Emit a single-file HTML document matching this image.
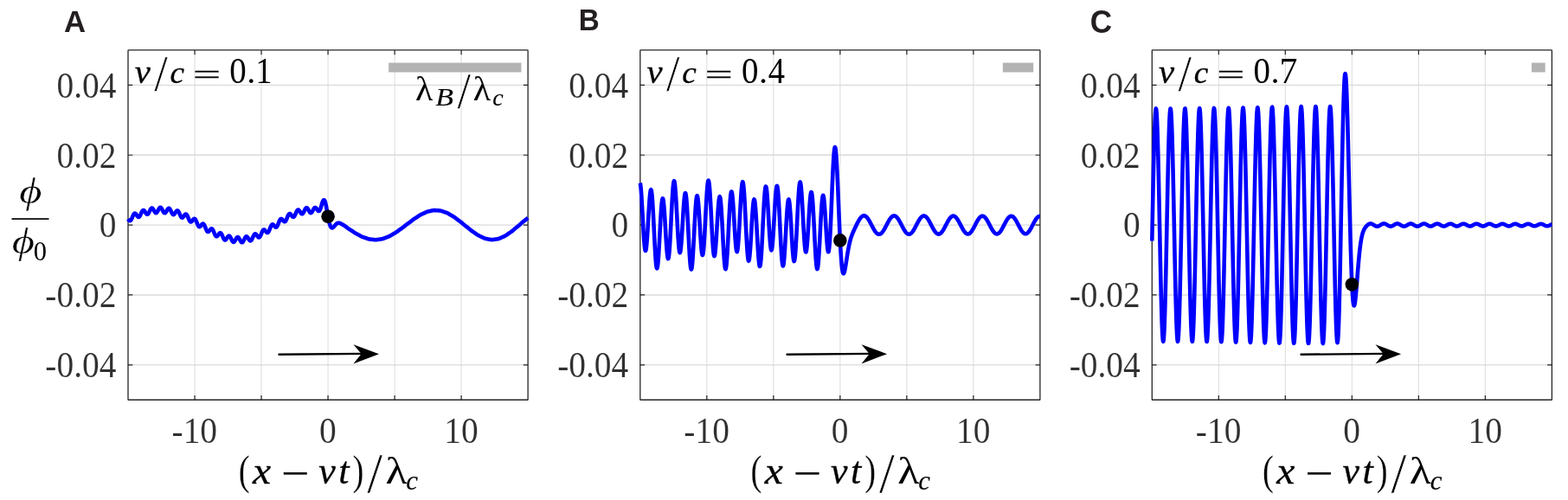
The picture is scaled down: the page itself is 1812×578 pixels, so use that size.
<!DOCTYPE html>
<html lang="en">
<head>
<meta charset="utf-8">
<title>Pilot-wave forms for v/c = 0.1, 0.4, 0.7</title>
<style>
html,body{margin:0;padding:0;background:#fff;}
body{width:1812px;height:578px;overflow:hidden;}
svg{display:block;}
text{white-space:pre;}
.r{font-family:"Liberation Serif","DejaVu Serif",serif;}
.i{font-family:"Liberation Serif","DejaVu Serif",serif;font-style:italic;}
.b{font-family:"Liberation Sans","DejaVu Sans",sans-serif;font-weight:bold;}
</style>
</head>
<body>
<svg width="1812" height="578" viewBox="0 0 1812 578">
<rect x="0" y="0" width="1812" height="578" fill="#fff"/>
<g id="panel0">
<path d="M225.02 57.95V462.25M302.03 57.95V462.25M379.05 57.95V462.25M456.07 57.95V462.25M533.08 57.95V462.25" stroke="#dfdfdf" stroke-width="1.1" fill="none"/>
<path d="M148 421.82H610.1M148 340.96H610.1M148 260.1H610.1M148 179.24H610.1M148 98.38H610.1" stroke="#dadada" stroke-width="1.35" fill="none"/>
<path d="M225.02 462.25v-5.3M225.02 57.95v5.3M302.03 462.25v-5.3M302.03 57.95v5.3M379.05 462.25v-5.3M379.05 57.95v5.3M456.07 462.25v-5.3M456.07 57.95v5.3M533.08 462.25v-5.3M533.08 57.95v5.3M148 421.82h5.3M610.1 421.82h-5.3M148 340.96h5.3M610.1 340.96h-5.3M148 260.1h5.3M610.1 260.1h-5.3M148 179.24h5.3M610.1 179.24h-5.3M148 98.38h5.3M610.1 98.38h-5.3" stroke="#262626" stroke-width="1.2" fill="none"/>
<rect x="148" y="57.95" width="462.1" height="404.3" rx="0.6" fill="none" stroke="#262626" stroke-width="1.3"/>
<rect x="449.14" y="72.55" width="153.26" height="10.95" fill="#b3b3b3"/>
<text><tspan class="i" font-size="38.5" x="155.74" y="96.3" textLength="18.11" lengthAdjust="spacingAndGlyphs" stroke="#000" stroke-width="0.3">v</tspan><tspan class="r" font-size="58.74" x="178.2" y="104.81" textLength="15.50" lengthAdjust="spacingAndGlyphs" stroke="#fff" stroke-width="0.45">/</tspan><tspan class="i" font-size="36.5" x="196.55" y="96.3" textLength="16.52" lengthAdjust="spacingAndGlyphs" stroke="#000" stroke-width="0.3">c</tspan> <tspan class="r" font-size="31.2" x="222.97" y="97.25" textLength="32.03" lengthAdjust="spacingAndGlyphs" stroke="#000" stroke-width="0.3">=</tspan> <tspan class="r" font-size="42.8" x="265.32" y="96.4" textLength="19.47" lengthAdjust="spacingAndGlyphs">0</tspan><tspan class="r" font-size="40.2" x="285.25" y="96.3">.</tspan><tspan class="r" font-size="42.8" x="295.21" y="96.3" textLength="19.26" lengthAdjust="spacingAndGlyphs">1</tspan></text>
<polyline points="148.00,253.13 148.25,253.49 148.50,253.85 148.75,254.19 149.00,254.50 149.25,254.76 149.50,254.97 149.75,255.12 150.00,255.21 150.25,255.22 150.50,255.15 150.75,255.02 151.00,254.80 151.25,254.51 151.50,254.15 151.75,253.73 152.00,253.25 152.25,252.73 152.50,252.17 152.75,251.58 153.00,250.99 153.25,250.39 153.50,249.80 153.75,249.23 153.99,248.70 154.24,248.21 154.49,247.78 154.74,247.41 154.99,247.10 155.24,246.88 155.49,246.72 155.74,246.65 155.99,246.65 156.24,246.72 156.49,246.87 156.74,247.08 156.99,247.34 157.24,247.65 157.49,248.00 157.74,248.37 157.99,248.76 158.24,249.14 158.49,249.52 158.74,249.87 158.99,250.19 159.24,250.46 159.49,250.68 159.74,250.84 159.99,250.93 160.24,250.95 160.49,250.89 160.74,250.76 160.99,250.55 161.24,250.27 161.49,249.92 161.74,249.51 161.99,249.05 162.24,248.54 162.49,248.00 162.74,247.43 162.99,246.86 163.24,246.29 163.49,245.73 163.74,245.19 163.99,244.70 164.24,244.25 164.49,243.86 164.74,243.53 164.99,243.27 165.24,243.09 165.48,242.98 165.73,242.95 165.98,243.00 166.23,243.12 166.48,243.31 166.73,243.56 166.98,243.86 167.23,244.21 167.48,244.60 167.73,245.00 167.98,245.42 168.23,245.84 168.48,246.24 168.73,246.62 168.98,246.96 169.23,247.25 169.48,247.49 169.73,247.67 169.98,247.78 170.23,247.81 170.48,247.77 170.73,247.65 170.98,247.46 171.23,247.20 171.48,246.87 171.73,246.48 171.98,246.04 172.23,245.56 172.48,245.04 172.73,244.51 172.98,243.97 173.23,243.44 173.48,242.92 173.73,242.43 173.98,241.98 174.23,241.58 174.48,241.24 174.73,240.96 174.98,240.75 175.23,240.62 175.48,240.57 175.73,240.60 175.98,240.70 176.23,240.88 176.48,241.12 176.73,241.42 176.97,241.78 177.22,242.17 177.47,242.60 177.72,243.05 177.97,243.51 178.22,243.96 178.47,244.40 178.72,244.81 178.97,245.18 179.22,245.50 179.47,245.77 179.72,245.97 179.97,246.10 180.22,246.16 180.47,246.14 180.72,246.05 180.97,245.88 181.22,245.64 181.47,245.34 181.72,244.98 181.97,244.57 182.22,244.12 182.47,243.65 182.72,243.16 182.97,242.66 183.22,242.17 183.47,241.70 183.72,241.26 183.97,240.86 184.22,240.52 184.47,240.23 184.72,240.01 184.97,239.87 185.22,239.80 185.47,239.81 185.72,239.89 185.97,240.06 186.22,240.29 186.47,240.59 186.72,240.95 186.97,241.36 187.22,241.81 187.47,242.29 187.72,242.78 187.97,243.28 188.22,243.78 188.46,244.26 188.71,244.70 188.96,245.11 189.21,245.46 189.46,245.76 189.71,245.99 189.96,246.15 190.21,246.23 190.46,246.24 190.71,246.18 190.96,246.04 191.21,245.83 191.46,245.56 191.71,245.23 191.96,244.86 192.21,244.45 192.46,244.01 192.71,243.56 192.96,243.11 193.21,242.67 193.46,242.25 193.71,241.86 193.96,241.52 194.21,241.23 194.46,241.01 194.71,240.85 194.96,240.77 195.21,240.76 195.46,240.83 195.71,240.98 195.96,241.20 196.21,241.50 196.46,241.86 196.71,242.27 196.96,242.73 197.21,243.24 197.46,243.76 197.71,244.31 197.96,244.85 198.21,245.39 198.46,245.90 198.71,246.38 198.96,246.82 199.21,247.21 199.46,247.54 199.71,247.79 199.96,247.98 200.20,248.09 200.45,248.13 200.70,248.09 200.95,247.98 201.20,247.80 201.45,247.56 201.70,247.26 201.95,246.92 202.20,246.55 202.45,246.15 202.70,245.74 202.95,245.33 203.20,244.94 203.45,244.57 203.70,244.23 203.95,243.95 204.20,243.71 204.45,243.54 204.70,243.44 204.95,243.42 205.20,243.47 205.45,243.60 205.70,243.81 205.95,244.09 206.20,244.44 206.45,244.85 206.70,245.32 206.95,245.84 207.20,246.39 207.45,246.96 207.70,247.54 207.95,248.13 208.20,248.70 208.45,249.25 208.70,249.76 208.95,250.22 209.20,250.64 209.45,250.99 209.70,251.27 209.95,251.48 210.20,251.61 210.45,251.66 210.70,251.65 210.95,251.56 211.20,251.40 211.45,251.18 211.69,250.91 211.94,250.60 212.19,250.26 212.44,249.89 212.69,249.52 212.94,249.15 213.19,248.79 213.44,248.46 213.69,248.17 213.94,247.93 214.19,247.75 214.44,247.63 214.69,247.58 214.94,247.61 215.19,247.71 215.44,247.89 215.69,248.15 215.94,248.48 216.19,248.88 216.44,249.33 216.69,249.85 216.94,250.40 217.19,250.99 217.44,251.59 217.69,252.21 217.94,252.82 218.19,253.42 218.44,253.99 218.69,254.52 218.94,255.01 219.19,255.43 219.44,255.80 219.69,256.09 219.94,256.31 220.19,256.45 220.44,256.52 220.69,256.51 220.94,256.43 221.19,256.29 221.44,256.08 221.69,255.83 221.94,255.53 222.19,255.21 222.44,254.87 222.69,254.52 222.94,254.17 223.18,253.85 223.43,253.55 223.68,253.29 223.93,253.09 224.18,252.94 224.43,252.86 224.68,252.85 224.93,252.91 225.18,253.05 225.43,253.27 225.68,253.56 225.93,253.93 226.18,254.36 226.43,254.85 226.68,255.39 226.93,255.97 227.18,256.58 227.43,257.21 227.68,257.84 227.93,258.47 228.18,259.08 228.43,259.66 228.68,260.20 228.93,260.68 229.18,261.11 229.43,261.47 229.68,261.76 229.93,261.98 230.18,262.12 230.43,262.18 230.68,262.17 230.93,262.09 231.18,261.94 231.43,261.74 231.68,261.48 231.93,261.19 232.18,260.87 232.43,260.53 232.68,260.19 232.93,259.86 233.18,259.55 233.43,259.27 233.68,259.03 233.93,258.84 234.18,258.72 234.43,258.66 234.67,258.67 234.92,258.75 235.17,258.92 235.42,259.16 235.67,259.47 235.92,259.86 236.17,260.31 236.42,260.81 236.67,261.37 236.92,261.96 237.17,262.57 237.42,263.20 237.67,263.84 237.92,264.46 238.17,265.06 238.42,265.63 238.67,266.16 238.92,266.63 239.17,267.05 239.42,267.39 239.67,267.66 239.92,267.86 240.17,267.97 240.42,268.01 240.67,267.98 240.92,267.88 241.17,267.71 241.42,267.49 241.67,267.22 241.92,266.91 242.17,266.58 242.42,266.24 242.67,265.89 242.92,265.55 243.17,265.24 243.42,264.95 243.67,264.72 243.92,264.53 244.17,264.41 244.42,264.35 244.67,264.37 244.92,264.46 245.17,264.63 245.42,264.88 245.67,265.20 245.92,265.58 246.17,266.03 246.41,266.53 246.66,267.08 246.91,267.66 247.16,268.27 247.41,268.88 247.66,269.50 247.91,270.10 248.16,270.68 248.41,271.22 248.66,271.72 248.91,272.16 249.16,272.54 249.41,272.84 249.66,273.08 249.91,273.23 250.16,273.31 250.41,273.32 250.66,273.24 250.91,273.10 251.16,272.90 251.41,272.64 251.66,272.34 251.91,272.00 252.16,271.64 252.41,271.27 252.66,270.90 252.91,270.54 253.16,270.20 253.41,269.91 253.66,269.65 253.91,269.45 254.16,269.32 254.41,269.25 254.66,269.25 254.91,269.34 255.16,269.49 255.41,269.72 255.66,270.03 255.91,270.40 256.16,270.83 256.41,271.31 256.66,271.83 256.91,272.39 257.16,272.96 257.41,273.55 257.66,274.13 257.90,274.69 258.15,275.23 258.40,275.73 258.65,276.18 258.90,276.57 259.15,276.89 259.40,277.15 259.65,277.33 259.90,277.43 260.15,277.46 260.40,277.40 260.65,277.28 260.90,277.08 261.15,276.83 261.40,276.52 261.65,276.17 261.90,275.79 262.15,275.38 262.40,274.97 262.65,274.56 262.90,274.16 263.15,273.79 263.40,273.46 263.65,273.18 263.90,272.95 264.15,272.79 264.40,272.69 264.65,272.67 264.90,272.73 265.15,272.86 265.40,273.06 265.65,273.33 265.90,273.67 266.15,274.07 266.40,274.52 266.65,275.00 266.90,275.52 267.15,276.05 267.40,276.59 267.65,277.12 267.90,277.63 268.15,278.11 268.40,278.55 268.65,278.94 268.90,279.27 269.15,279.53 269.39,279.72 269.64,279.84 269.89,279.87 270.14,279.83 270.39,279.71 270.64,279.52 270.89,279.26 271.14,278.94 271.39,278.58 271.64,278.17 271.89,277.73 272.14,277.27 272.39,276.80 272.64,276.34 272.89,275.90 273.14,275.48 273.39,275.11 273.64,274.79 273.89,274.52 274.14,274.32 274.39,274.19 274.64,274.13 274.89,274.15 275.14,274.24 275.39,274.41 275.64,274.64 275.89,274.94 276.14,275.30 276.39,275.70 276.64,276.14 276.89,276.61 277.14,277.09 277.39,277.57 277.64,278.04 277.89,278.49 278.14,278.91 278.39,279.28 278.64,279.61 278.89,279.87 279.14,280.06 279.39,280.17 279.64,280.21 279.89,280.18 280.14,280.06 280.39,279.87 280.64,279.61 280.88,279.28 281.13,278.89 281.38,278.46 281.63,277.98 281.88,277.48 282.13,276.96 282.38,276.44 282.63,275.93 282.88,275.43 283.13,274.97 283.38,274.55 283.63,274.18 283.88,273.88 284.13,273.63 284.38,273.46 284.63,273.37 284.88,273.35 285.13,273.40 285.38,273.53 285.63,273.72 285.88,273.98 286.13,274.29 286.38,274.64 286.63,275.03 286.88,275.45 287.13,275.87 287.38,276.30 287.63,276.71 287.88,277.10 288.13,277.45 288.38,277.76 288.63,278.01 288.88,278.20 289.13,278.32 289.38,278.37 289.63,278.33 289.88,278.22 290.13,278.03 290.38,277.77 290.63,277.44 290.88,277.04 291.13,276.59 291.38,276.09 291.63,275.56 291.88,274.99 292.13,274.42 292.38,273.85 292.62,273.28 292.87,272.74 293.12,272.24 293.37,271.77 293.62,271.37 293.87,271.02 294.12,270.74 294.37,270.53 294.62,270.40 294.87,270.35 295.12,270.37 295.37,270.46 295.62,270.62 295.87,270.83 296.12,271.10 296.37,271.42 296.62,271.76 296.87,272.13 297.12,272.51 297.37,272.88 297.62,273.24 297.87,273.58 298.12,273.87 298.37,274.12 298.62,274.31 298.87,274.43 299.12,274.49 299.37,274.47 299.62,274.37 299.87,274.20 300.12,273.95 300.37,273.62 300.62,273.23 300.87,272.77 301.12,272.26 301.37,271.71 301.62,271.12 301.87,270.51 302.12,269.90 302.37,269.28 302.62,268.68 302.87,268.10 303.12,267.56 303.37,267.07 303.62,266.63 303.87,266.26 304.11,265.96 304.36,265.73 304.61,265.57 304.86,265.49 305.11,265.49 305.36,265.56 305.61,265.69 305.86,265.88 306.11,266.13 306.36,266.41 306.61,266.73 306.86,267.06 307.11,267.40 307.36,267.74 307.61,268.06 307.86,268.35 308.11,268.60 308.36,268.80 308.61,268.94 308.86,269.02 309.11,269.03 309.36,268.96 309.61,268.81 309.86,268.59 310.11,268.29 310.36,267.92 310.61,267.48 310.86,266.98 311.11,266.43 311.36,265.84 311.61,265.22 311.86,264.58 312.11,263.94 312.36,263.30 312.61,262.67 312.86,262.08 313.11,261.53 313.36,261.02 313.61,260.57 313.86,260.19 314.11,259.88 314.36,259.65 314.61,259.49 314.86,259.41 315.11,259.40 315.36,259.46 315.60,259.59 315.85,259.78 316.10,260.01 316.35,260.29 316.60,260.59 316.85,260.91 317.10,261.23 317.35,261.55 317.60,261.85 317.85,262.12 318.10,262.34 318.35,262.52 318.60,262.63 318.85,262.68 319.10,262.66 319.35,262.56 319.60,262.39 319.85,262.14 320.10,261.81 320.35,261.42 320.60,260.96 320.85,260.44 321.10,259.87 321.35,259.27 321.60,258.64 321.85,257.99 322.10,257.34 322.35,256.70 322.60,256.07 322.85,255.48 323.10,254.94 323.35,254.44 323.60,254.01 323.85,253.64 324.10,253.35 324.35,253.13 324.60,252.99 324.85,252.93 325.10,252.94 325.35,253.02 325.60,253.16 325.85,253.37 326.10,253.62 326.35,253.90 326.60,254.22 326.85,254.55 327.09,254.88 327.34,255.20 327.59,255.50 327.84,255.77 328.09,255.99 328.34,256.16 328.59,256.28 328.84,256.32 329.09,256.29 329.34,256.19 329.59,256.01 329.84,255.76 330.09,255.43 330.34,255.03 330.59,254.57 330.84,254.06 331.09,253.50 331.34,252.91 331.59,252.29 331.84,251.66 332.09,251.03 332.34,250.41 332.59,249.81 332.84,249.25 333.09,248.74 333.34,248.28 333.59,247.88 333.84,247.55 334.09,247.30 334.34,247.13 334.59,247.03 334.84,247.01 335.09,247.06 335.34,247.18 335.59,247.37 335.84,247.61 336.09,247.90 336.34,248.22 336.59,248.57 336.84,248.93 337.09,249.29 337.34,249.64 337.59,249.96 337.84,250.25 338.09,250.50 338.34,250.69 338.59,250.82 338.83,250.89 339.08,250.88 339.33,250.79 339.58,250.63 339.83,250.40 340.08,250.09 340.33,249.72 340.58,249.28 340.83,248.80 341.08,248.27 341.33,247.71 341.58,247.12 341.83,246.53 342.08,245.95 342.33,245.37 342.58,244.83 342.83,244.32 343.08,243.86 343.33,243.46 343.58,243.12 343.83,242.85 344.08,242.66 344.33,242.55 344.58,242.52 344.83,242.56 345.08,242.68 345.33,242.86 345.58,243.11 345.83,243.41 346.08,243.75 346.33,244.13 346.58,244.53 346.83,244.95 347.08,245.36 347.33,245.75 347.58,246.12 347.83,246.46 348.08,246.74 348.33,246.98 348.58,247.15 348.83,247.25 349.08,247.27 349.33,247.23 349.58,247.10 349.83,246.91 350.08,246.64 350.32,246.31 350.57,245.92 350.82,245.48 351.07,245.00 351.32,244.49 351.57,243.96 351.82,243.43 352.07,242.90 352.32,242.39 352.57,241.91 352.82,241.47 353.07,241.09 353.32,240.76 353.57,240.50 353.82,240.31 354.07,240.20 354.32,240.16 354.57,240.21 354.82,240.33 355.07,240.52 355.32,240.78 355.57,241.11 355.82,241.48 356.07,241.90 356.32,242.35 356.57,242.81 356.82,243.29 357.07,243.76 357.32,244.21 357.57,244.64 357.82,245.03 358.07,245.37 358.32,245.65 358.57,245.87 358.82,246.01 359.07,246.09 359.32,246.09 359.57,246.01 359.82,245.86 360.07,245.64 360.32,245.35 360.57,245.01 360.82,244.61 361.07,244.18 361.32,243.72 361.57,243.25 361.81,242.76 362.06,242.29 362.31,241.83 362.56,241.40 362.81,241.01 363.06,240.67 363.31,240.39 363.56,240.17 363.81,240.02 364.06,239.94 364.31,239.93 364.56,239.99 364.81,240.12 365.06,240.31 365.31,240.56 365.56,240.86 365.81,241.20 366.06,241.56 366.31,241.94 366.56,242.32 366.81,242.69 367.06,243.04 367.31,243.35 367.56,243.62 367.81,243.83 368.06,243.97 368.31,244.03 368.56,244.00 368.81,243.89 369.06,243.68 369.31,243.38 369.56,242.99 369.81,242.50 370.06,241.93 370.31,241.29 370.56,240.57 370.81,239.80 371.06,238.99 371.31,238.14 371.56,237.28 371.81,236.42 372.06,235.57 372.31,234.75 372.56,233.99 372.81,233.28 373.06,232.66 373.30,232.13 373.55,231.69 373.80,231.38 374.05,231.18 374.30,231.12 374.55,231.19 374.80,231.40 375.05,231.75 375.30,232.23 375.55,232.85 375.80,233.60 376.05,234.46 376.30,235.44 376.55,236.53 376.80,237.70 377.05,238.96 377.30,240.28 377.55,241.65 377.80,243.06 378.05,244.50 378.30,245.95 378.55,247.39 378.80,248.82 379.05,250.22 379.30,251.58 379.55,252.89 379.80,254.14 380.05,255.33 380.30,256.44 380.55,257.48 380.80,258.43 381.05,259.30 381.30,260.08 381.55,260.78 381.80,261.38 382.05,261.90 382.30,262.34 382.55,262.70 382.80,262.98 383.05,263.19 383.30,263.33 383.55,263.41 383.80,263.43 384.05,263.40 384.30,263.32 384.55,263.19 384.80,263.03 385.04,262.84 385.29,262.62 385.54,262.37 385.79,262.11 386.04,261.83 386.29,261.54 386.54,261.24 386.79,260.95 387.04,260.65 387.29,260.35 387.54,260.06 387.79,259.78 388.04,259.51 388.29,259.26 388.54,259.02 388.79,258.80 389.04,258.59 389.29,258.41 389.54,258.24 389.79,258.10 390.04,257.98 390.29,257.89 390.54,257.81 390.79,257.76 391.04,257.72 391.29,257.71 391.54,257.72 391.79,257.75 392.04,257.79 392.29,257.85 392.54,257.93 392.79,258.01 393.04,258.11 393.29,258.22 393.54,258.34 393.79,258.46 394.04,258.59 394.29,258.72 394.54,258.85 394.79,258.99 395.04,259.13 395.29,259.27 395.54,259.41 395.79,259.55 396.04,259.69 396.29,259.83 396.53,259.98 396.78,260.12 397.03,260.27 397.28,260.42 397.53,260.57 397.78,260.73 398.03,260.89 398.28,261.05 398.53,261.22 398.78,261.39 399.03,261.57 399.28,261.75 399.53,261.94 399.78,262.12 400.03,262.31 400.28,262.51 400.53,262.70 400.78,262.89 401.03,263.09 401.28,263.28 401.53,263.47 401.78,263.66 402.03,263.84 402.28,264.03 402.53,264.20 402.78,264.38 403.03,264.55 403.28,264.72 403.53,264.88 403.78,265.04 404.03,265.19 404.28,265.35 404.53,265.50 404.78,265.65 405.03,265.80 405.28,265.95 405.53,266.10 405.78,266.26 406.03,266.42 406.28,266.57 406.53,266.74 406.78,266.90 407.03,267.07 407.28,267.24 407.53,267.41 407.78,267.59 408.02,267.77 408.27,267.94 408.52,268.12 408.77,268.30 409.02,268.47 409.27,268.65 409.52,268.82 409.77,268.98 410.02,269.15 410.27,269.31 410.52,269.46 410.77,269.61 411.02,269.76 411.27,269.90 411.52,270.03 411.77,270.17 412.02,270.30 412.27,270.42 412.52,270.55 412.77,270.67 413.02,270.79 413.27,270.92 413.52,271.04 413.77,271.17 414.02,271.29 414.27,271.42 414.52,271.56 414.77,271.69 415.02,271.83 415.27,271.97 415.52,272.11 415.77,272.25 416.02,272.39 416.27,272.53 416.52,272.67 416.77,272.81 417.02,272.95 417.27,273.09 417.52,273.22 417.77,273.35 418.02,273.47 418.27,273.59 418.52,273.70 418.77,273.81 419.02,273.91 419.27,274.01 419.51,274.10 419.76,274.19 420.01,274.27 420.26,274.35 420.51,274.43 420.76,274.51 421.01,274.59 421.26,274.67 421.51,274.75 421.76,274.83 422.01,274.91 422.26,274.99 422.51,275.08 422.76,275.17 423.01,275.26 423.26,275.35 423.51,275.44 423.76,275.53 424.01,275.63 424.26,275.72 424.51,275.81 424.76,275.90 425.01,275.98 425.26,276.06 425.51,276.14 425.76,276.21 426.01,276.28 426.26,276.34 426.51,276.40 426.76,276.45 427.01,276.49 427.26,276.53 427.51,276.57 427.76,276.60 428.01,276.63 428.26,276.65 428.51,276.68 428.76,276.70 429.01,276.72 429.26,276.74 429.51,276.76 429.76,276.79 430.01,276.81 430.26,276.84 430.51,276.87 430.76,276.90 431.01,276.93 431.25,276.96 431.50,276.99 431.75,277.02 432.00,277.06 432.25,277.09 432.50,277.12 432.75,277.14 433.00,277.17 433.25,277.19 433.50,277.20 433.75,277.21 434.00,277.21 434.25,277.21 434.50,277.20 434.75,277.19 435.00,277.17 435.25,277.15 435.50,277.12 435.75,277.08 436.00,277.05 436.25,277.01 436.50,276.97 436.75,276.93 437.00,276.89 437.25,276.85 437.50,276.81 437.75,276.77 438.00,276.73 438.25,276.69 438.50,276.66 438.75,276.63 439.00,276.59 439.25,276.56 439.50,276.53 439.75,276.50 440.00,276.47 440.25,276.44 440.50,276.40 440.75,276.37 441.00,276.32 441.25,276.28 441.50,276.23 441.75,276.17 442.00,276.11 442.25,276.04 442.50,275.97 442.74,275.89 442.99,275.81 443.24,275.72 443.49,275.63 443.74,275.53 443.99,275.43 444.24,275.33 444.49,275.23 444.74,275.13 444.99,275.02 445.24,274.92 445.49,274.82 445.74,274.72 445.99,274.63 446.24,274.53 446.49,274.44 446.74,274.34 446.99,274.25 447.24,274.16 447.49,274.08 447.74,273.99 447.99,273.90 448.24,273.80 448.49,273.71 448.74,273.61 448.99,273.51 449.24,273.41 449.49,273.30 449.74,273.18 449.99,273.06 450.24,272.93 450.49,272.80 450.74,272.67 450.99,272.53 451.24,272.38 451.49,272.23 451.74,272.08 451.99,271.93 452.24,271.78 452.49,271.62 452.74,271.47 452.99,271.31 453.24,271.16 453.49,271.01 453.74,270.86 453.99,270.71 454.23,270.57 454.48,270.43 454.73,270.29 454.98,270.15 455.23,270.01 455.48,269.87 455.73,269.74 455.98,269.60 456.23,269.46 456.48,269.32 456.73,269.17 456.98,269.03 457.23,268.88 457.48,268.72 457.73,268.56 457.98,268.39 458.23,268.22 458.48,268.05 458.73,267.87 458.98,267.69 459.23,267.50 459.48,267.31 459.73,267.12 459.98,266.93 460.23,266.74 460.48,266.55 460.73,266.36 460.98,266.17 461.23,265.98 461.48,265.80 461.73,265.61 461.98,265.43 462.23,265.26 462.48,265.09 462.73,264.92 462.98,264.75 463.23,264.58 463.48,264.41 463.73,264.25 463.98,264.08 464.23,263.92 464.48,263.75 464.73,263.57 464.98,263.40 465.23,263.22 465.48,263.04 465.72,262.85 465.97,262.66 466.22,262.47 466.47,262.27 466.72,262.07 466.97,261.87 467.22,261.66 467.47,261.45 467.72,261.24 467.97,261.03 468.22,260.83 468.47,260.62 468.72,260.41 468.97,260.21 469.22,260.01 469.47,259.82 469.72,259.62 469.97,259.43 470.22,259.25 470.47,259.07 470.72,258.89 470.97,258.71 471.22,258.54 471.47,258.37 471.72,258.19 471.97,258.02 472.22,257.85 472.47,257.68 472.72,257.50 472.97,257.32 473.22,257.14 473.47,256.96 473.72,256.77 473.97,256.58 474.22,256.38 474.47,256.19 474.72,255.99 474.97,255.79 475.22,255.58 475.47,255.38 475.72,255.18 475.97,254.98 476.22,254.77 476.47,254.58 476.72,254.38 476.97,254.19 477.22,254.00 477.46,253.82 477.71,253.64 477.96,253.47 478.21,253.30 478.46,253.13 478.71,252.97 478.96,252.81 479.21,252.65 479.46,252.50 479.71,252.35 479.96,252.19 480.21,252.04 480.46,251.89 480.71,251.73 480.96,251.57 481.21,251.41 481.46,251.25 481.71,251.09 481.96,250.92 482.21,250.75 482.46,250.58 482.71,250.40 482.96,250.23 483.21,250.06 483.46,249.88 483.71,249.71 483.96,249.54 484.21,249.37 484.46,249.21 484.71,249.05 484.96,248.89 485.21,248.74 485.46,248.59 485.71,248.45 485.96,248.32 486.21,248.19 486.46,248.06 486.71,247.94 486.96,247.82 487.21,247.71 487.46,247.59 487.71,247.48 487.96,247.37 488.21,247.26 488.46,247.15 488.71,247.03 488.95,246.92 489.20,246.80 489.45,246.69 489.70,246.57 489.95,246.44 490.20,246.32 490.45,246.20 490.70,246.07 490.95,245.95 491.20,245.82 491.45,245.70 491.70,245.58 491.95,245.46 492.20,245.35 492.45,245.24 492.70,245.13 492.95,245.03 493.20,244.94 493.45,244.85 493.70,244.77 493.95,244.69 494.20,244.62 494.45,244.55 494.70,244.49 494.95,244.43 495.20,244.37 495.45,244.32 495.70,244.27 495.95,244.22 496.20,244.16 496.45,244.11 496.70,244.06 496.95,244.01 497.20,243.95 497.45,243.90 497.70,243.84 497.95,243.78 498.20,243.72 498.45,243.66 498.70,243.60 498.95,243.54 499.20,243.48 499.45,243.42 499.70,243.37 499.95,243.32 500.20,243.27 500.44,243.23 500.69,243.20 500.94,243.17 501.19,243.14 501.44,243.13 501.69,243.11 501.94,243.11 502.19,243.11 502.44,243.11 502.69,243.12 502.94,243.13 503.19,243.14 503.44,243.16 503.69,243.18 503.94,243.20 504.19,243.22 504.44,243.24 504.69,243.26 504.94,243.27 505.19,243.29 505.44,243.30 505.69,243.32 505.94,243.33 506.19,243.34 506.44,243.35 506.69,243.36 506.94,243.38 507.19,243.39 507.44,243.41 507.69,243.43 507.94,243.45 508.19,243.48 508.44,243.51 508.69,243.55 508.94,243.60 509.19,243.65 509.44,243.70 509.69,243.77 509.94,243.83 510.19,243.91 510.44,243.99 510.69,244.07 510.94,244.15 511.19,244.24 511.44,244.33 511.69,244.42 511.93,244.51 512.18,244.60 512.43,244.69 512.68,244.78 512.93,244.87 513.18,244.95 513.43,245.04 513.68,245.12 513.93,245.20 514.18,245.28 514.43,245.36 514.68,245.44 514.93,245.53 515.18,245.61 515.43,245.70 515.68,245.79 515.93,245.88 516.18,245.98 516.43,246.08 516.68,246.19 516.93,246.31 517.18,246.43 517.43,246.55 517.68,246.68 517.93,246.82 518.18,246.96 518.43,247.11 518.68,247.25 518.93,247.40 519.18,247.56 519.43,247.71 519.68,247.86 519.93,248.02 520.18,248.17 520.43,248.32 520.68,248.47 520.93,248.62 521.18,248.76 521.43,248.90 521.68,249.05 521.93,249.19 522.18,249.32 522.43,249.46 522.68,249.60 522.93,249.74 523.18,249.88 523.43,250.03 523.67,250.17 523.92,250.32 524.17,250.48 524.42,250.64 524.67,250.80 524.92,250.97 525.17,251.14 525.42,251.32 525.67,251.50 525.92,251.69 526.17,251.88 526.42,252.08 526.67,252.27 526.92,252.47 527.17,252.67 527.42,252.87 527.67,253.07 527.92,253.27 528.17,253.46 528.42,253.65 528.67,253.84 528.92,254.03 529.17,254.22 529.42,254.40 529.67,254.58 529.92,254.76 530.17,254.93 530.42,255.11 530.67,255.28 530.92,255.46 531.17,255.64 531.42,255.81 531.67,256.00 531.92,256.18 532.17,256.37 532.42,256.56 532.67,256.75 532.92,256.95 533.17,257.16 533.42,257.37 533.67,257.58 533.92,257.79 534.17,258.01 534.42,258.23 534.67,258.45 534.92,258.67 535.16,258.89 535.41,259.11 535.66,259.33 535.91,259.54 536.16,259.75 536.41,259.96 536.66,260.17 536.91,260.37 537.16,260.57 537.41,260.76 537.66,260.95 537.91,261.14 538.16,261.33 538.41,261.51 538.66,261.70 538.91,261.88 539.16,262.07 539.41,262.25 539.66,262.44 539.91,262.63 540.16,262.82 540.41,263.02 540.66,263.22 540.91,263.42 541.16,263.63 541.41,263.84 541.66,264.05 541.91,264.26 542.16,264.47 542.41,264.69 542.66,264.90 542.91,265.12 543.16,265.33 543.41,265.54 543.66,265.75 543.91,265.95 544.16,266.15 544.41,266.35 544.66,266.54 544.91,266.72 545.16,266.90 545.41,267.08 545.66,267.25 545.91,267.42 546.16,267.59 546.41,267.76 546.65,267.92 546.90,268.08 547.15,268.24 547.40,268.41 547.65,268.57 547.90,268.74 548.15,268.91 548.40,269.08 548.65,269.25 548.90,269.43 549.15,269.60 549.40,269.78 549.65,269.96 549.90,270.15 550.15,270.33 550.40,270.51 550.65,270.69 550.90,270.87 551.15,271.04 551.40,271.21 551.65,271.38 551.90,271.54 552.15,271.70 552.40,271.85 552.65,272.00 552.90,272.14 553.15,272.28 553.40,272.41 553.65,272.54 553.90,272.66 554.15,272.78 554.40,272.90 554.65,273.01 554.90,273.13 555.15,273.24 555.40,273.35 555.65,273.47 555.90,273.58 556.15,273.70 556.40,273.82 556.65,273.94 556.90,274.06 557.15,274.18 557.40,274.31 557.65,274.43 557.90,274.56 558.14,274.68 558.39,274.80 558.64,274.92 558.89,275.04 559.14,275.15 559.39,275.26 559.64,275.36 559.89,275.46 560.14,275.55 560.39,275.64 560.64,275.72 560.89,275.79 561.14,275.86 561.39,275.92 561.64,275.98 561.89,276.03 562.14,276.09 562.39,276.13 562.64,276.18 562.89,276.22 563.14,276.27 563.39,276.31 563.64,276.35 563.89,276.40 564.14,276.44 564.39,276.49 564.64,276.54 564.89,276.59 565.14,276.64 565.39,276.69 565.64,276.74 565.89,276.79 566.14,276.84 566.39,276.88 566.64,276.92 566.89,276.96 567.14,277.00 567.39,277.03 567.64,277.05 567.89,277.07 568.14,277.08 568.39,277.08 568.64,277.08 568.89,277.08 569.14,277.06 569.39,277.04 569.64,277.02 569.88,276.99 570.13,276.96 570.38,276.93 570.63,276.90 570.88,276.86 571.13,276.82 571.38,276.79 571.63,276.75 571.88,276.71 572.13,276.68 572.38,276.65 572.63,276.61 572.88,276.58 573.13,276.55 573.38,276.52 573.63,276.49 573.88,276.46 574.13,276.42 574.38,276.38 574.63,276.34 574.88,276.30 575.13,276.25 575.38,276.20 575.63,276.14 575.88,276.07 576.13,276.00 576.38,275.92 576.63,275.84 576.88,275.75 577.13,275.65 577.38,275.55 577.63,275.44 577.88,275.34 578.13,275.22 578.38,275.11 578.63,275.00 578.88,274.88 579.13,274.77 579.38,274.65 579.63,274.54 579.88,274.42 580.13,274.31 580.38,274.20 580.63,274.09 580.88,273.99 581.13,273.88 581.37,273.77 581.62,273.67 581.87,273.56 582.12,273.45 582.37,273.33 582.62,273.22 582.87,273.10 583.12,272.98 583.37,272.85 583.62,272.71 583.87,272.57 584.12,272.43 584.37,272.27 584.62,272.12 584.87,271.96 585.12,271.79 585.37,271.62 585.62,271.44 585.87,271.27 586.12,271.09 586.37,270.91 586.62,270.73 586.87,270.55 587.12,270.37 587.37,270.19 587.62,270.01 587.87,269.84 588.12,269.67 588.37,269.50 588.62,269.33 588.87,269.16 589.12,269.00 589.37,268.83 589.62,268.67 589.87,268.50 590.12,268.34 590.37,268.17 590.62,268.00 590.87,267.82 591.12,267.64 591.37,267.46 591.62,267.27 591.87,267.08 592.12,266.88 592.37,266.68 592.62,266.47 592.86,266.26 593.11,266.05 593.36,265.83 593.61,265.61 593.86,265.39 594.11,265.17 594.36,264.95 594.61,264.73 594.86,264.51 595.11,264.29 595.36,264.07 595.61,263.86 595.86,263.65 596.11,263.45 596.36,263.24 596.61,263.04 596.86,262.85 597.11,262.65 597.36,262.45 597.61,262.26 597.86,262.07 598.11,261.87 598.36,261.68 598.61,261.48 598.86,261.28 599.11,261.07 599.36,260.87 599.61,260.66 599.86,260.44 600.11,260.22 600.36,260.00 600.61,259.78 600.86,259.55 601.11,259.32 601.36,259.09 601.61,258.85 601.86,258.62 602.11,258.39 602.36,258.16 602.61,257.93 602.86,257.70 603.11,257.48 603.36,257.26 603.61,257.05 603.86,256.84 604.11,256.63 604.35,256.43 604.60,256.23 604.85,256.03 605.10,255.84 605.35,255.65 605.60,255.46 605.85,255.27 606.10,255.09 606.35,254.90 606.60,254.71 606.85,254.51 607.10,254.32 607.35,254.12 607.60,253.93 607.85,253.72 608.10,253.52 608.35,253.31 608.60,253.10 608.85,252.89 609.10,252.68 609.35,252.47 609.60,252.26 609.85,252.05 610.10,251.85" fill="none" stroke="#0000ff" stroke-width="4.6" stroke-linejoin="round" stroke-linecap="butt"/>
<circle cx="379.05" cy="250.22" r="7.8" fill="#000"/>
<path d="M322.5 409.8L418.6 408.9" stroke="#000" stroke-width="2.45" fill="none" stroke-linecap="round"/>
<path d="M438 409.15L408.4 398.2L417.6 408.9L408.4 420.4Z" fill="#000"/>
<text class="r" font-size="41.7" fill="#303030" stroke="#fff" stroke-width="0.1" transform="translate(134.4 112.68) scale(0.945 1)" text-anchor="end">0.04</text>
<text class="r" font-size="41.7" fill="#303030" stroke="#fff" stroke-width="0.1" transform="translate(134.4 193.54) scale(0.945 1)" text-anchor="end">0.02</text>
<text class="r" font-size="41.7" fill="#303030" stroke="#fff" stroke-width="0.1" transform="translate(134.4 274.4) scale(0.945 1)" text-anchor="end">0</text>
<text class="r" font-size="41.7" fill="#303030" stroke="#fff" stroke-width="0.1" transform="translate(134.4 355.26) scale(0.945 1)" text-anchor="end">-0.02</text>
<text class="r" font-size="41.7" fill="#303030" stroke="#fff" stroke-width="0.1" transform="translate(134.4 436.12) scale(0.945 1)" text-anchor="end">-0.04</text>
<text class="r" font-size="41.7" fill="#303030" stroke="#fff" stroke-width="0.1" transform="translate(224.82 512.4) scale(0.945 1)" text-anchor="middle">-10</text>
<text class="r" font-size="41.7" fill="#303030" stroke="#fff" stroke-width="0.1" transform="translate(378.85 512.4) scale(0.945 1)" text-anchor="middle">0</text>
<text class="r" font-size="41.7" fill="#303030" stroke="#fff" stroke-width="0.1" transform="translate(532.88 512.4) scale(0.945 1)" text-anchor="middle">10</text>
<text><tspan class="b" font-size="34.9" x="74.09" y="37.3" textLength="25.08" lengthAdjust="spacingAndGlyphs" fill="#231f20">A</tspan></text>
<text><tspan class="r" font-size="47.88" x="275.8" y="559.9" textLength="12.87" lengthAdjust="spacingAndGlyphs" stroke="#fff" stroke-width="0.2">(</tspan><tspan class="i" font-size="44" x="292.08" y="558.9" textLength="21.09" lengthAdjust="spacingAndGlyphs" stroke="#000" stroke-width="0.3">x</tspan> <tspan class="r" font-size="44" x="325.15" y="562.4" textLength="32.26" lengthAdjust="spacingAndGlyphs" stroke="#000" stroke-width="0.3">−</tspan> <tspan class="i" font-size="44" x="368.3" y="558.9" stroke="#000" stroke-width="0.3">v</tspan><tspan class="i" font-size="44" x="391.17" y="558.9" stroke="#000" stroke-width="0.3">t</tspan><tspan class="r" font-size="47.88" x="407.55" y="559.9" textLength="12.87" lengthAdjust="spacingAndGlyphs" stroke="#fff" stroke-width="0.2">)</tspan><tspan class="r" font-size="64.72" x="424.3" y="568.85" textLength="17.80" lengthAdjust="spacingAndGlyphs" stroke="#fff" stroke-width="0.5">/</tspan><tspan class="r" font-size="44" x="445.43" y="558.9" textLength="25.17" lengthAdjust="spacingAndGlyphs">λ</tspan><tspan class="i" font-size="31" x="469.35" y="566.1" stroke="#000" stroke-width="0.12">c</tspan></text>
</g>
<g id="panel1">
<path d="M816.82 57.95V462.25M893.83 57.95V462.25M970.85 57.95V462.25M1047.87 57.95V462.25M1124.88 57.95V462.25" stroke="#dfdfdf" stroke-width="1.1" fill="none"/>
<path d="M739.8 421.82H1201.9M739.8 340.96H1201.9M739.8 260.1H1201.9M739.8 179.24H1201.9M739.8 98.38H1201.9" stroke="#dadada" stroke-width="1.35" fill="none"/>
<path d="M816.82 462.25v-5.3M816.82 57.95v5.3M893.83 462.25v-5.3M893.83 57.95v5.3M970.85 462.25v-5.3M970.85 57.95v5.3M1047.87 462.25v-5.3M1047.87 57.95v5.3M1124.88 462.25v-5.3M1124.88 57.95v5.3M739.8 421.82h5.3M1201.9 421.82h-5.3M739.8 340.96h5.3M1201.9 340.96h-5.3M739.8 260.1h5.3M1201.9 260.1h-5.3M739.8 179.24h5.3M1201.9 179.24h-5.3M739.8 98.38h5.3M1201.9 98.38h-5.3" stroke="#262626" stroke-width="1.2" fill="none"/>
<rect x="739.8" y="57.95" width="462.1" height="404.3" rx="0.6" fill="none" stroke="#262626" stroke-width="1.3"/>
<rect x="1158.9" y="72.55" width="35.29" height="10.95" fill="#b3b3b3"/>
<text><tspan class="i" font-size="38.5" x="747.54" y="96.3" textLength="18.11" lengthAdjust="spacingAndGlyphs" stroke="#000" stroke-width="0.3">v</tspan><tspan class="r" font-size="58.74" x="770" y="104.81" textLength="15.50" lengthAdjust="spacingAndGlyphs" stroke="#fff" stroke-width="0.45">/</tspan><tspan class="i" font-size="36.5" x="788.35" y="96.3" textLength="16.52" lengthAdjust="spacingAndGlyphs" stroke="#000" stroke-width="0.3">c</tspan> <tspan class="r" font-size="31.2" x="814.77" y="97.25" textLength="32.03" lengthAdjust="spacingAndGlyphs" stroke="#000" stroke-width="0.3">=</tspan> <tspan class="r" font-size="42.8" x="857.12" y="96.4" textLength="19.47" lengthAdjust="spacingAndGlyphs">0</tspan><tspan class="r" font-size="40.2" x="877.05" y="96.3">.</tspan><tspan class="r" font-size="42.8" x="887.85" y="96.3" textLength="19.26" lengthAdjust="spacingAndGlyphs">4</tspan></text>
<polyline points="739.80,211.55 740.05,212.82 740.30,214.64 740.55,216.96 740.80,219.76 741.05,223.00 741.30,226.63 741.55,230.59 741.80,234.83 742.05,239.28 742.30,243.89 742.55,248.59 742.80,253.30 743.05,257.97 743.30,262.53 743.55,266.91 743.80,271.05 744.05,274.90 744.30,278.39 744.55,281.50 744.80,284.16 745.05,286.34 745.30,288.03 745.55,289.18 745.79,289.80 746.04,289.87 746.29,289.39 746.54,288.38 746.79,286.85 747.04,284.83 747.29,282.34 747.54,279.43 747.79,276.15 748.04,272.53 748.29,268.64 748.54,264.54 748.79,260.28 749.04,255.93 749.29,251.56 749.54,247.24 749.79,243.02 750.04,238.98 750.29,235.17 750.54,231.66 750.79,228.50 751.04,225.74 751.29,223.42 751.54,221.58 751.79,220.26 752.04,219.47 752.29,219.24 752.54,219.58 752.79,220.48 753.04,221.93 753.29,223.93 753.54,226.46 753.79,229.47 754.04,232.94 754.29,236.82 754.54,241.07 754.79,245.62 755.04,250.43 755.29,255.42 755.54,260.54 755.79,265.72 756.04,270.89 756.29,275.98 756.54,280.92 756.79,285.66 757.04,290.12 757.28,294.26 757.53,298.02 757.78,301.34 758.03,304.19 758.28,306.53 758.53,308.34 758.78,309.58 759.03,310.24 759.28,310.32 759.53,309.83 759.78,308.76 760.03,307.14 760.28,304.99 760.53,302.35 760.78,299.24 761.03,295.73 761.28,291.85 761.53,287.67 761.78,283.24 762.03,278.63 762.28,273.90 762.53,269.12 762.78,264.35 763.03,259.66 763.28,255.11 763.53,250.78 763.78,246.72 764.03,242.98 764.28,239.61 764.53,236.66 764.78,234.18 765.03,232.19 765.28,230.71 765.53,229.77 765.78,229.38 766.03,229.53 766.28,230.23 766.53,231.45 766.78,233.19 767.03,235.40 767.28,238.06 767.53,241.12 767.78,244.54 768.03,248.25 768.28,252.22 768.53,256.37 768.77,260.64 769.02,264.97 769.27,269.29 769.52,273.53 769.77,277.63 770.02,281.53 770.27,285.17 770.52,288.48 770.77,291.42 771.02,293.94 771.27,296.00 771.52,297.56 771.77,298.60 772.02,299.10 772.27,299.03 772.52,298.41 772.77,297.22 773.02,295.49 773.27,293.22 773.52,290.46 773.77,287.22 774.02,283.55 774.27,279.50 774.52,275.11 774.77,270.45 775.02,265.57 775.27,260.54 775.52,255.42 775.77,250.28 776.02,245.19 776.27,240.22 776.52,235.42 776.77,230.87 777.02,226.63 777.27,222.74 777.52,219.27 777.77,216.25 778.02,213.72 778.27,211.73 778.52,210.28 778.77,209.41 779.02,209.12 779.27,209.42 779.52,210.29 779.77,211.72 780.02,213.70 780.26,216.19 780.51,219.16 780.76,222.56 781.01,226.35 781.26,230.47 781.51,234.87 781.76,239.48 782.01,244.25 782.26,249.10 782.51,253.96 782.76,258.78 783.01,263.48 783.26,268.00 783.51,272.27 783.76,276.25 784.01,279.88 784.26,283.11 784.51,285.89 784.76,288.19 785.01,289.99 785.26,291.25 785.51,291.97 785.76,292.15 786.01,291.77 786.26,290.85 786.51,289.42 786.76,287.48 787.01,285.09 787.26,282.26 787.51,279.06 787.76,275.52 788.01,271.70 788.26,267.67 788.51,263.49 788.76,259.21 789.01,254.91 789.26,250.64 789.51,246.49 789.76,242.50 790.01,238.75 790.26,235.29 790.51,232.17 790.76,229.45 791.01,227.17 791.26,225.36 791.51,224.07 791.76,223.30 792.00,223.08 792.25,223.42 792.50,224.32 792.75,225.77 793.00,227.76 793.25,230.26 793.50,233.24 793.75,236.68 794.00,240.51 794.25,244.70 794.50,249.19 794.75,253.92 795.00,258.84 795.25,263.87 795.50,268.94 795.75,274.00 796.00,278.97 796.25,283.80 796.50,288.40 796.75,292.73 797.00,296.72 797.25,300.32 797.50,303.48 797.75,306.17 798.00,308.34 798.25,309.96 798.50,311.02 798.75,311.50 799.00,311.40 799.25,310.72 799.50,309.46 799.75,307.65 800.00,305.31 800.25,302.48 800.50,299.19 800.75,295.48 801.00,291.42 801.25,287.06 801.50,282.45 801.75,277.66 802.00,272.76 802.25,267.80 802.50,262.87 802.75,258.02 803.00,253.32 803.25,248.84 803.49,244.63 803.74,240.75 803.99,237.25 804.24,234.18 804.49,231.57 804.74,229.46 804.99,227.87 805.24,226.82 805.49,226.33 805.74,226.38 805.99,226.99 806.24,228.13 806.49,229.78 806.74,231.91 806.99,234.49 807.24,237.48 807.49,240.83 807.74,244.49 807.99,248.40 808.24,252.49 808.49,256.72 808.74,261.00 808.99,265.27 809.24,269.48 809.49,273.55 809.74,277.42 809.99,281.03 810.24,284.33 810.49,287.25 810.74,289.76 810.99,291.82 811.24,293.39 811.49,294.44 811.74,294.95 811.99,294.91 812.24,294.31 812.49,293.17 812.74,291.48 812.99,289.27 813.24,286.57 813.49,283.40 813.74,279.81 813.99,275.85 814.24,271.56 814.49,267.01 814.74,262.24 814.98,257.34 815.23,252.35 815.48,247.36 815.73,242.42 815.98,237.60 816.23,232.97 816.48,228.60 816.73,224.53 816.98,220.83 817.23,217.55 817.48,214.72 817.73,212.40 817.98,210.61 818.23,209.38 818.48,208.72 818.73,208.64 818.98,209.15 819.23,210.24 819.48,211.89 819.73,214.08 819.98,216.78 820.23,219.96 820.48,223.57 820.73,227.56 820.98,231.89 821.23,236.48 821.48,241.29 821.73,246.24 821.98,251.26 822.23,256.30 822.48,261.29 822.73,266.15 822.98,270.82 823.23,275.25 823.48,279.37 823.73,283.13 823.98,286.48 824.23,289.38 824.48,291.80 824.73,293.70 824.98,295.06 825.23,295.88 825.48,296.13 825.73,295.83 825.98,294.99 826.23,293.62 826.47,291.75 826.72,289.40 826.97,286.62 827.22,283.46 827.47,279.96 827.72,276.18 827.97,272.17 828.22,268.00 828.47,263.74 828.72,259.45 828.97,255.19 829.22,251.03 829.47,247.04 829.72,243.28 829.97,239.80 830.22,236.65 830.47,233.90 830.72,231.58 830.97,229.73 831.22,228.39 831.47,227.56 831.72,227.28 831.97,227.55 832.22,228.37 832.47,229.73 832.72,231.62 832.97,234.02 833.22,236.89 833.47,240.20 833.72,243.90 833.97,247.96 834.22,252.30 834.47,256.88 834.72,261.63 834.97,266.49 835.22,271.38 835.47,276.26 835.72,281.04 835.97,285.66 836.22,290.06 836.47,294.17 836.72,297.94 836.97,301.32 837.22,304.26 837.47,306.72 837.72,308.65 837.97,310.04 838.21,310.87 838.46,311.11 838.71,310.78 838.96,309.86 839.21,308.37 839.46,306.32 839.71,303.76 839.96,300.70 840.21,297.19 840.46,293.27 840.71,289.00 840.96,284.43 841.21,279.62 841.46,274.65 841.71,269.56 841.96,264.43 842.21,259.33 842.46,254.33 842.71,249.48 842.96,244.86 843.21,240.52 843.46,236.52 843.71,232.91 843.96,229.73 844.21,227.03 844.46,224.83 844.71,223.17 844.96,222.06 845.21,221.50 845.46,221.51 845.71,222.07 845.96,223.18 846.21,224.80 846.46,226.92 846.71,229.49 846.96,232.47 847.21,235.83 847.46,239.49 847.71,243.42 847.96,247.54 848.21,251.79 848.46,256.10 848.71,260.42 848.96,264.68 849.21,268.80 849.46,272.73 849.70,276.41 849.95,279.78 850.20,282.78 850.45,285.38 850.70,287.53 850.95,289.20 851.20,290.35 851.45,290.97 851.70,291.05 851.95,290.59 852.20,289.58 852.45,288.03 852.70,285.97 852.95,283.43 853.20,280.43 853.45,277.01 853.70,273.23 853.95,269.13 854.20,264.77 854.45,260.21 854.70,255.51 854.95,250.74 855.20,245.96 855.45,241.25 855.70,236.66 855.95,232.27 856.20,228.14 856.45,224.31 856.70,220.86 856.95,217.82 857.20,215.25 857.45,213.18 857.70,211.65 857.95,210.66 858.20,210.25 858.45,210.43 858.70,211.18 858.95,212.51 859.20,214.39 859.45,216.82 859.70,219.75 859.95,223.14 860.20,226.97 860.45,231.17 860.70,235.69 860.95,240.47 861.19,245.45 861.44,250.57 861.69,255.76 861.94,260.94 862.19,266.07 862.44,271.05 862.69,275.84 862.94,280.37 863.19,284.58 863.44,288.43 863.69,291.85 863.94,294.81 864.19,297.27 864.44,299.21 864.69,300.60 864.94,301.43 865.19,301.69 865.44,301.39 865.69,300.53 865.94,299.14 866.19,297.23 866.44,294.85 866.69,292.02 866.94,288.80 867.19,285.24 867.44,281.38 867.69,277.30 867.94,273.05 868.19,268.69 868.44,264.30 868.69,259.94 868.94,255.67 869.19,251.56 869.44,247.67 869.69,244.06 869.94,240.78 870.19,237.89 870.44,235.42 870.69,233.42 870.94,231.91 871.19,230.92 871.44,230.47 871.69,230.56 871.94,231.19 872.19,232.36 872.44,234.06 872.68,236.25 872.93,238.92 873.18,242.01 873.43,245.50 873.68,249.32 873.93,253.44 874.18,257.78 874.43,262.29 874.68,266.91 874.93,271.56 875.18,276.18 875.43,280.70 875.68,285.07 875.93,289.21 876.18,293.06 876.43,296.57 876.68,299.69 876.93,302.37 877.18,304.57 877.43,306.25 877.68,307.39 877.93,307.96 878.18,307.96 878.43,307.38 878.68,306.23 878.93,304.51 879.18,302.25 879.43,299.47 879.68,296.21 879.93,292.51 880.18,288.41 880.43,283.97 880.68,279.24 880.93,274.29 881.18,269.17 881.43,263.96 881.68,258.72 881.93,253.53 882.18,248.44 882.43,243.52 882.68,238.84 882.93,234.45 883.18,230.42 883.43,226.79 883.68,223.61 883.93,220.91 884.18,218.74 884.42,217.10 884.67,216.03 884.92,215.53 885.17,215.60 885.42,216.24 885.67,217.43 885.92,219.15 886.17,221.37 886.42,224.06 886.67,227.17 886.92,230.65 887.17,234.45 887.42,238.52 887.67,242.79 887.92,247.20 888.17,251.68 888.42,256.17 888.67,260.60 888.92,264.90 889.17,269.02 889.42,272.89 889.67,276.45 889.92,279.66 890.17,282.46 890.42,284.82 890.67,286.70 890.92,288.07 891.17,288.92 891.42,289.22 891.67,288.98 891.92,288.21 892.17,286.90 892.42,285.08 892.67,282.78 892.92,280.02 893.17,276.86 893.42,273.32 893.67,269.48 893.92,265.37 894.17,261.07 894.42,256.63 894.67,252.12 894.92,247.61 895.17,243.16 895.42,238.84 895.67,234.70 895.91,230.83 896.16,227.26 896.41,224.06 896.66,221.27 896.91,218.95 897.16,217.12 897.41,215.81 897.66,215.06 897.91,214.87 898.16,215.26 898.41,216.21 898.66,217.73 898.91,219.81 899.16,222.40 899.41,225.49 899.66,229.04 899.91,233.00 900.16,237.32 900.41,241.95 900.66,246.83 900.91,251.90 901.16,257.08 901.41,262.32 901.66,267.55 901.91,272.69 902.16,277.69 902.41,282.47 902.66,286.98 902.91,291.16 903.16,294.95 903.41,298.31 903.66,301.19 903.91,303.56 904.16,305.40 904.41,306.67 904.66,307.37 904.91,307.49 905.16,307.04 905.41,306.02 905.66,304.46 905.91,302.38 906.16,299.80 906.41,296.78 906.66,293.36 906.91,289.59 907.16,285.52 907.40,281.21 907.65,276.73 907.90,272.15 908.15,267.52 908.40,262.92 908.65,258.41 908.90,254.05 909.15,249.91 909.40,246.05 909.65,242.52 909.90,239.37 910.15,236.65 910.40,234.39 910.65,232.62 910.90,231.37 911.15,230.66 911.40,230.49 911.65,230.86 911.90,231.77 912.15,233.20 912.40,235.13 912.65,237.53 912.90,240.37 913.15,243.59 913.40,247.16 913.65,251.02 913.90,255.10 914.15,259.36 914.40,263.72 914.65,268.12 914.90,272.50 915.15,276.78 915.40,280.91 915.65,284.81 915.90,288.44 916.15,291.73 916.40,294.64 916.65,297.11 916.90,299.11 917.15,300.60 917.40,301.56 917.65,301.96 917.90,301.80 918.15,301.08 918.40,299.79 918.65,297.95 918.89,295.58 919.14,292.70 919.39,289.36 919.64,285.59 919.89,281.43 920.14,276.95 920.39,272.20 920.64,267.24 920.89,262.14 921.14,256.95 921.39,251.76 921.64,246.62 921.89,241.60 922.14,236.77 922.39,232.19 922.64,227.93 922.89,224.03 923.14,220.55 923.39,217.53 923.64,215.00 923.89,213.01 924.14,211.58 924.39,210.72 924.64,210.44 924.89,210.74 925.14,211.62 925.39,213.06 925.64,215.03 925.89,217.51 926.14,220.47 926.39,223.85 926.64,227.61 926.89,231.70 927.14,236.05 927.39,240.61 927.64,245.31 927.89,250.08 928.14,254.87 928.39,259.59 928.64,264.19 928.89,268.59 929.14,272.75 929.39,276.61 929.64,280.10 929.89,283.19 930.14,285.83 930.39,287.99 930.63,289.64 930.88,290.76 931.13,291.34 931.38,291.37 931.63,290.86 931.88,289.81 932.13,288.25 932.38,286.20 932.63,283.69 932.88,280.77 933.13,277.47 933.38,273.86 933.63,269.98 933.88,265.90 934.13,261.67 934.38,257.37 934.63,253.06 934.88,248.80 935.13,244.66 935.38,240.71 935.63,237.00 935.88,233.59 936.13,230.54 936.38,227.89 936.63,225.69 936.88,223.98 937.13,222.78 937.38,222.11 937.63,222.00 937.88,222.45 938.13,223.46 938.38,225.02 938.63,227.12 938.88,229.72 939.13,232.80 939.38,236.33 939.63,240.25 939.88,244.52 940.13,249.08 940.38,253.87 940.63,258.83 940.88,263.90 941.13,269.00 941.38,274.07 941.63,279.05 941.88,283.87 942.12,288.45 942.37,292.75 942.62,296.71 942.87,300.26 943.12,303.37 943.37,305.99 943.62,308.09 943.87,309.65 944.12,310.63 944.37,311.03 944.62,310.85 944.87,310.09 945.12,308.75 945.37,306.86 945.62,304.45 945.87,301.55 946.12,298.20 946.37,294.44 946.62,290.33 946.87,285.93 947.12,281.29 947.37,276.48 947.62,271.57 947.87,266.61 948.12,261.69 948.37,256.86 948.62,252.19 948.87,247.74 949.12,243.58 949.37,239.75 949.62,236.31 949.87,233.30 950.12,230.76 950.37,228.72 950.62,227.21 950.87,226.23 951.12,225.81 951.37,225.93 951.62,226.60 951.87,227.80 952.12,229.50 952.37,231.67 952.62,234.28 952.87,237.29 953.12,240.64 953.37,244.28 953.61,248.16 953.86,252.21 954.11,256.36 954.36,260.55 954.61,264.71 954.86,268.77 955.11,272.68 955.36,276.36 955.61,279.75 955.86,282.79 956.11,285.44 956.36,287.63 956.61,289.34 956.86,290.52 957.11,291.15 957.36,291.20 957.61,290.66 957.86,289.52 958.11,287.78 958.36,285.46 958.61,282.57 958.86,279.14 959.11,275.19 959.36,270.76 959.61,265.90 959.86,260.67 960.11,255.10 960.36,249.28 960.61,243.24 960.86,237.07 961.11,230.83 961.36,224.58 961.61,218.40 961.86,212.34 962.11,206.49 962.36,200.90 962.61,195.62 962.86,190.73 963.11,186.26 963.36,182.27 963.61,178.79 963.86,175.87 964.11,173.52 964.36,171.78 964.61,170.65 964.86,170.15 965.10,170.28 965.35,171.03 965.60,172.39 965.85,174.34 966.10,176.87 966.35,179.94 966.60,183.52 966.85,187.57 967.10,192.06 967.35,196.92 967.60,202.13 967.85,207.62 968.10,213.35 968.35,219.26 968.60,225.31 968.85,231.44 969.10,237.61 969.35,243.76 969.60,249.84 969.85,255.82 970.10,261.65 970.35,267.30 970.60,272.72 970.85,277.90 971.10,282.80 971.35,287.39 971.60,291.67 971.85,295.61 972.10,299.21 972.35,302.45 972.60,305.34 972.85,307.86 973.10,310.04 973.35,311.87 973.60,313.36 973.85,314.53 974.10,315.38 974.35,315.94 974.60,316.21 974.85,316.23 975.10,316.00 975.35,315.55 975.60,314.90 975.85,314.07 976.10,313.08 976.35,311.95 976.60,310.69 976.84,309.34 977.09,307.90 977.34,306.40 977.59,304.85 977.84,303.26 978.09,301.65 978.34,300.04 978.59,298.42 978.84,296.82 979.09,295.24 979.34,293.69 979.59,292.17 979.84,290.69 980.09,289.26 980.34,287.88 980.59,286.54 980.84,285.26 981.09,284.03 981.34,282.85 981.59,281.72 981.84,280.64 982.09,279.62 982.34,278.64 982.59,277.70 982.84,276.81 983.09,275.95 983.34,275.14 983.59,274.35 983.84,273.60 984.09,272.88 984.34,272.19 984.59,271.52 984.84,270.86 985.09,270.23 985.34,269.62 985.59,269.02 985.84,268.43 986.09,267.85 986.34,267.29 986.59,266.73 986.84,266.17 987.09,265.63 987.34,265.08 987.59,264.55 987.84,264.01 988.09,263.48 988.33,262.96 988.58,262.43 988.83,261.91 989.08,261.39 989.33,260.88 989.58,260.37 989.83,259.86 990.08,259.36 990.33,258.86 990.58,258.37 990.83,257.88 991.08,257.40 991.33,256.93 991.58,256.46 991.83,256.00 992.08,255.56 992.33,255.12 992.58,254.69 992.83,254.28 993.08,253.88 993.33,253.49 993.58,253.11 993.83,252.75 994.08,252.40 994.33,252.07 994.58,251.76 994.83,251.46 995.08,251.18 995.33,250.92 995.58,250.67 995.83,250.45 996.08,250.25 996.33,250.06 996.58,249.90 996.83,249.75 997.08,249.63 997.33,249.52 997.58,249.44 997.83,249.38 998.08,249.35 998.33,249.33 998.58,249.33 998.83,249.36 999.08,249.41 999.33,249.48 999.58,249.57 999.82,249.68 1000.07,249.82 1000.32,249.97 1000.57,250.15 1000.82,250.34 1001.07,250.56 1001.32,250.79 1001.57,251.04 1001.82,251.31 1002.07,251.60 1002.32,251.91 1002.57,252.23 1002.82,252.57 1003.07,252.92 1003.32,253.29 1003.57,253.67 1003.82,254.06 1004.07,254.47 1004.32,254.89 1004.57,255.31 1004.82,255.75 1005.07,256.20 1005.32,256.65 1005.57,257.11 1005.82,257.58 1006.07,258.05 1006.32,258.53 1006.57,259.01 1006.82,259.49 1007.07,259.97 1007.32,260.46 1007.57,260.94 1007.82,261.42 1008.07,261.90 1008.32,262.37 1008.57,262.84 1008.82,263.31 1009.07,263.77 1009.32,264.22 1009.57,264.66 1009.82,265.09 1010.07,265.51 1010.32,265.92 1010.57,266.32 1010.82,266.71 1011.07,267.09 1011.31,267.44 1011.56,267.79 1011.81,268.12 1012.06,268.43 1012.31,268.73 1012.56,269.00 1012.81,269.26 1013.06,269.51 1013.31,269.73 1013.56,269.93 1013.81,270.11 1014.06,270.28 1014.31,270.42 1014.56,270.54 1014.81,270.64 1015.06,270.71 1015.31,270.77 1015.56,270.81 1015.81,270.82 1016.06,270.81 1016.31,270.78 1016.56,270.73 1016.81,270.65 1017.06,270.56 1017.31,270.44 1017.56,270.30 1017.81,270.14 1018.06,269.96 1018.31,269.76 1018.56,269.55 1018.81,269.31 1019.06,269.05 1019.31,268.78 1019.56,268.48 1019.81,268.17 1020.06,267.85 1020.31,267.50 1020.56,267.15 1020.81,266.78 1021.06,266.39 1021.31,265.99 1021.56,265.58 1021.81,265.16 1022.06,264.73 1022.31,264.29 1022.56,263.84 1022.81,263.38 1023.05,262.92 1023.30,262.45 1023.55,261.97 1023.80,261.50 1024.05,261.02 1024.30,260.53 1024.55,260.05 1024.80,259.57 1025.05,259.08 1025.30,258.60 1025.55,258.13 1025.80,257.65 1026.05,257.18 1026.30,256.72 1026.55,256.27 1026.80,255.82 1027.05,255.38 1027.30,254.95 1027.55,254.54 1027.80,254.13 1028.05,253.73 1028.30,253.35 1028.55,252.99 1028.80,252.63 1029.05,252.29 1029.30,251.97 1029.55,251.67 1029.80,251.38 1030.05,251.11 1030.30,250.86 1030.55,250.63 1030.80,250.42 1031.05,250.22 1031.30,250.05 1031.55,249.90 1031.80,249.77 1032.05,249.66 1032.30,249.57 1032.55,249.50 1032.80,249.46 1033.05,249.44 1033.30,249.44 1033.55,249.46 1033.80,249.50 1034.05,249.57 1034.30,249.65 1034.54,249.76 1034.79,249.89 1035.04,250.04 1035.29,250.21 1035.54,250.40 1035.79,250.61 1036.04,250.85 1036.29,251.10 1036.54,251.36 1036.79,251.65 1037.04,251.95 1037.29,252.28 1037.54,252.61 1037.79,252.96 1038.04,253.33 1038.29,253.71 1038.54,254.11 1038.79,254.51 1039.04,254.93 1039.29,255.36 1039.54,255.80 1039.79,256.25 1040.04,256.70 1040.29,257.16 1040.54,257.63 1040.79,258.10 1041.04,258.58 1041.29,259.06 1041.54,259.55 1041.79,260.03 1042.04,260.51 1042.29,261.00 1042.54,261.48 1042.79,261.96 1043.04,262.43 1043.29,262.90 1043.54,263.36 1043.79,263.82 1044.04,264.27 1044.29,264.71 1044.54,265.14 1044.79,265.56 1045.04,265.97 1045.29,266.37 1045.54,266.75 1045.79,267.12 1046.03,267.48 1046.28,267.82 1046.53,268.14 1046.78,268.45 1047.03,268.74 1047.28,269.01 1047.53,269.26 1047.78,269.50 1048.03,269.71 1048.28,269.91 1048.53,270.08 1048.78,270.24 1049.03,270.37 1049.28,270.48 1049.53,270.57 1049.78,270.64 1050.03,270.69 1050.28,270.71 1050.53,270.71 1050.78,270.69 1051.03,270.65 1051.28,270.59 1051.53,270.50 1051.78,270.39 1052.03,270.26 1052.28,270.11 1052.53,269.94 1052.78,269.75 1053.03,269.54 1053.28,269.31 1053.53,269.06 1053.78,268.79 1054.03,268.50 1054.28,268.20 1054.53,267.88 1054.78,267.54 1055.03,267.19 1055.28,266.82 1055.53,266.44 1055.78,266.04 1056.03,265.63 1056.28,265.21 1056.53,264.79 1056.78,264.35 1057.03,263.90 1057.28,263.44 1057.52,262.98 1057.77,262.51 1058.02,262.04 1058.27,261.56 1058.52,261.08 1058.77,260.59 1059.02,260.11 1059.27,259.62 1059.52,259.14 1059.77,258.66 1060.02,258.18 1060.27,257.71 1060.52,257.24 1060.77,256.78 1061.02,256.32 1061.27,255.87 1061.52,255.43 1061.77,255.00 1062.02,254.59 1062.27,254.18 1062.52,253.78 1062.77,253.40 1063.02,253.04 1063.27,252.68 1063.52,252.35 1063.77,252.03 1064.02,251.72 1064.27,251.44 1064.52,251.17 1064.77,250.92 1065.02,250.69 1065.27,250.48 1065.52,250.29 1065.77,250.12 1066.02,249.97 1066.27,249.85 1066.52,249.74 1066.77,249.66 1067.02,249.60 1067.27,249.56 1067.52,249.54 1067.77,249.54 1068.02,249.57 1068.27,249.62 1068.52,249.69 1068.77,249.79 1069.02,249.90 1069.26,250.04 1069.51,250.19 1069.76,250.37 1070.01,250.57 1070.26,250.79 1070.51,251.03 1070.76,251.29 1071.01,251.56 1071.26,251.86 1071.51,252.17 1071.76,252.50 1072.01,252.84 1072.26,253.20 1072.51,253.57 1072.76,253.96 1073.01,254.36 1073.26,254.78 1073.51,255.20 1073.76,255.63 1074.01,256.08 1074.26,256.53 1074.51,256.99 1074.76,257.46 1075.01,257.93 1075.26,258.40 1075.51,258.88 1075.76,259.37 1076.01,259.85 1076.26,260.33 1076.51,260.82 1076.76,261.30 1077.01,261.78 1077.26,262.26 1077.51,262.73 1077.76,263.19 1078.01,263.65 1078.26,264.11 1078.51,264.55 1078.76,264.98 1079.01,265.41 1079.26,265.82 1079.51,266.22 1079.76,266.61 1080.01,266.98 1080.26,267.34 1080.51,267.68 1080.75,268.01 1081.00,268.32 1081.25,268.61 1081.50,268.89 1081.75,269.14 1082.00,269.38 1082.25,269.60 1082.50,269.80 1082.75,269.97 1083.00,270.13 1083.25,270.26 1083.50,270.37 1083.75,270.47 1084.00,270.53 1084.25,270.58 1084.50,270.61 1084.75,270.61 1085.00,270.59 1085.25,270.54 1085.50,270.48 1085.75,270.39 1086.00,270.28 1086.25,270.15 1086.50,270.00 1086.75,269.83 1087.00,269.64 1087.25,269.42 1087.50,269.19 1087.75,268.93 1088.00,268.66 1088.25,268.37 1088.50,268.07 1088.75,267.74 1089.00,267.40 1089.25,267.04 1089.50,266.67 1089.75,266.29 1090.00,265.89 1090.25,265.48 1090.50,265.06 1090.75,264.62 1091.00,264.18 1091.25,263.73 1091.50,263.27 1091.75,262.81 1092.00,262.33 1092.24,261.86 1092.49,261.38 1092.74,260.90 1092.99,260.41 1093.24,259.93 1093.49,259.44 1093.74,258.96 1093.99,258.48 1094.24,258.00 1094.49,257.53 1094.74,257.06 1094.99,256.60 1095.24,256.15 1095.49,255.71 1095.74,255.27 1095.99,254.85 1096.24,254.43 1096.49,254.03 1096.74,253.65 1096.99,253.27 1097.24,252.91 1097.49,252.57 1097.74,252.24 1097.99,251.93 1098.24,251.64 1098.49,251.36 1098.74,251.10 1098.99,250.87 1099.24,250.65 1099.49,250.45 1099.74,250.28 1099.99,250.12 1100.24,249.99 1100.49,249.87 1100.74,249.78 1100.99,249.72 1101.24,249.67 1101.49,249.65 1101.74,249.65 1101.99,249.67 1102.24,249.71 1102.49,249.78 1102.74,249.87 1102.99,249.98 1103.24,250.11 1103.49,250.26 1103.73,250.44 1103.98,250.63 1104.23,250.85 1104.48,251.09 1104.73,251.34 1104.98,251.61 1105.23,251.91 1105.48,252.22 1105.73,252.54 1105.98,252.89 1106.23,253.25 1106.48,253.62 1106.73,254.01 1106.98,254.41 1107.23,254.82 1107.48,255.25 1107.73,255.68 1107.98,256.12 1108.23,256.58 1108.48,257.04 1108.73,257.50 1108.98,257.98 1109.23,258.45 1109.48,258.93 1109.73,259.42 1109.98,259.90 1110.23,260.39 1110.48,260.87 1110.73,261.35 1110.98,261.83 1111.23,262.31 1111.48,262.78 1111.73,263.24 1111.98,263.70 1112.23,264.15 1112.48,264.60 1112.73,265.03 1112.98,265.45 1113.23,265.86 1113.48,266.26 1113.73,266.64 1113.98,267.01 1114.23,267.36 1114.48,267.70 1114.73,268.03 1114.98,268.33 1115.23,268.62 1115.47,268.89 1115.72,269.14 1115.97,269.37 1116.22,269.58 1116.47,269.77 1116.72,269.94 1116.97,270.08 1117.22,270.21 1117.47,270.31 1117.72,270.39 1117.97,270.45 1118.22,270.49 1118.47,270.50 1118.72,270.50 1118.97,270.47 1119.22,270.41 1119.47,270.34 1119.72,270.24 1119.97,270.12 1120.22,269.98 1120.47,269.81 1120.72,269.63 1120.97,269.42 1121.22,269.20 1121.47,268.95 1121.72,268.69 1121.97,268.40 1122.22,268.10 1122.47,267.78 1122.72,267.45 1122.97,267.10 1123.22,266.73 1123.47,266.35 1123.72,265.95 1123.97,265.55 1124.22,265.13 1124.47,264.70 1124.72,264.26 1124.97,263.81 1125.22,263.35 1125.47,262.89 1125.72,262.42 1125.97,261.94 1126.22,261.46 1126.47,260.98 1126.72,260.50 1126.96,260.01 1127.21,259.53 1127.46,259.04 1127.71,258.56 1127.96,258.08 1128.21,257.61 1128.46,257.14 1128.71,256.68 1128.96,256.23 1129.21,255.78 1129.46,255.35 1129.71,254.92 1129.96,254.51 1130.21,254.11 1130.46,253.72 1130.71,253.34 1130.96,252.98 1131.21,252.64 1131.46,252.31 1131.71,252.00 1131.96,251.71 1132.21,251.43 1132.46,251.18 1132.71,250.94 1132.96,250.72 1133.21,250.53 1133.46,250.35 1133.71,250.20 1133.96,250.07 1134.21,249.96 1134.46,249.87 1134.71,249.81 1134.96,249.77 1135.21,249.75 1135.46,249.75 1135.71,249.78 1135.96,249.83 1136.21,249.90 1136.46,249.99 1136.71,250.11 1136.96,250.25 1137.21,250.40 1137.46,250.59 1137.71,250.79 1137.96,251.01 1138.21,251.25 1138.45,251.51 1138.70,251.79 1138.95,252.09 1139.20,252.41 1139.45,252.74 1139.70,253.09 1139.95,253.46 1140.20,253.83 1140.45,254.23 1140.70,254.63 1140.95,255.05 1141.20,255.48 1141.45,255.92 1141.70,256.37 1141.95,256.83 1142.20,257.29 1142.45,257.76 1142.70,258.23 1142.95,258.71 1143.20,259.20 1143.45,259.68 1143.70,260.16 1143.95,260.65 1144.20,261.13 1144.45,261.61 1144.70,262.09 1144.95,262.57 1145.20,263.03 1145.45,263.50 1145.70,263.95 1145.95,264.39 1146.20,264.83 1146.45,265.26 1146.70,265.67 1146.95,266.07 1147.20,266.46 1147.45,266.83 1147.70,267.19 1147.95,267.54 1148.20,267.86 1148.45,268.17 1148.70,268.47 1148.95,268.74 1149.20,268.99 1149.45,269.23 1149.70,269.44 1149.94,269.64 1150.19,269.81 1150.44,269.96 1150.69,270.09 1150.94,270.20 1151.19,270.28 1151.44,270.34 1151.69,270.38 1151.94,270.40 1152.19,270.39 1152.44,270.37 1152.69,270.31 1152.94,270.24 1153.19,270.14 1153.44,270.02 1153.69,269.88 1153.94,269.72 1154.19,269.53 1154.44,269.33 1154.69,269.10 1154.94,268.86 1155.19,268.59 1155.44,268.31 1155.69,268.01 1155.94,267.69 1156.19,267.35 1156.44,267.00 1156.69,266.63 1156.94,266.25 1157.19,265.85 1157.44,265.44 1157.69,265.02 1157.94,264.59 1158.19,264.15 1158.44,263.70 1158.69,263.24 1158.94,262.77 1159.19,262.30 1159.44,261.82 1159.69,261.34 1159.94,260.86 1160.19,260.38 1160.44,259.89 1160.69,259.41 1160.94,258.92 1161.19,258.44 1161.44,257.97 1161.68,257.49 1161.93,257.03 1162.18,256.57 1162.43,256.12 1162.68,255.67 1162.93,255.24 1163.18,254.82 1163.43,254.41 1163.68,254.01 1163.93,253.63 1164.18,253.26 1164.43,252.91 1164.68,252.57 1164.93,252.25 1165.18,251.95 1165.43,251.66 1165.68,251.40 1165.93,251.15 1166.18,250.92 1166.43,250.72 1166.68,250.53 1166.93,250.37 1167.18,250.23 1167.43,250.11 1167.68,250.01 1167.93,249.94 1168.18,249.89 1168.43,249.86 1168.68,249.85 1168.93,249.87 1169.18,249.91 1169.43,249.97 1169.68,250.06 1169.93,250.16 1170.18,250.29 1170.43,250.45 1170.68,250.62 1170.93,250.82 1171.18,251.03 1171.43,251.27 1171.68,251.53 1171.93,251.80 1172.18,252.10 1172.43,252.41 1172.68,252.74 1172.93,253.08 1173.17,253.44 1173.42,253.82 1173.67,254.21 1173.92,254.61 1174.17,255.03 1174.42,255.46 1174.67,255.90 1174.92,256.34 1175.17,256.80 1175.42,257.26 1175.67,257.73 1175.92,258.21 1176.17,258.69 1176.42,259.17 1176.67,259.65 1176.92,260.14 1177.17,260.62 1177.42,261.11 1177.67,261.59 1177.92,262.07 1178.17,262.54 1178.42,263.01 1178.67,263.47 1178.92,263.92 1179.17,264.37 1179.42,264.80 1179.67,265.23 1179.92,265.64 1180.17,266.04 1180.42,266.43 1180.67,266.80 1180.92,267.16 1181.17,267.50 1181.42,267.83 1181.67,268.14 1181.92,268.43 1182.17,268.70 1182.42,268.95 1182.67,269.18 1182.92,269.39 1183.17,269.58 1183.42,269.75 1183.67,269.89 1183.92,270.02 1184.17,270.12 1184.42,270.20 1184.66,270.26 1184.91,270.29 1185.16,270.30 1185.41,270.29 1185.66,270.25 1185.91,270.19 1186.16,270.11 1186.41,270.00 1186.66,269.88 1186.91,269.73 1187.16,269.56 1187.41,269.36 1187.66,269.15 1187.91,268.92 1188.16,268.66 1188.41,268.39 1188.66,268.10 1188.91,267.79 1189.16,267.46 1189.41,267.12 1189.66,266.76 1189.91,266.38 1190.16,265.99 1190.41,265.59 1190.66,265.17 1190.91,264.75 1191.16,264.31 1191.41,263.86 1191.66,263.41 1191.91,262.94 1192.16,262.47 1192.41,262.00 1192.66,261.52 1192.91,261.04 1193.16,260.55 1193.41,260.07 1193.66,259.58 1193.91,259.10 1194.16,258.62 1194.41,258.14 1194.66,257.67 1194.91,257.20 1195.16,256.74 1195.41,256.28 1195.66,255.84 1195.91,255.40 1196.15,254.98 1196.40,254.57 1196.65,254.17 1196.90,253.78 1197.15,253.41 1197.40,253.05 1197.65,252.71 1197.90,252.39 1198.15,252.08 1198.40,251.79 1198.65,251.52 1198.90,251.27 1199.15,251.04 1199.40,250.84 1199.65,250.65 1199.90,250.48 1200.15,250.34 1200.40,250.22 1200.65,250.12 1200.90,250.04 1201.15,249.99 1201.40,249.96 1201.65,249.95 1201.90,249.97" fill="none" stroke="#0000ff" stroke-width="4.6" stroke-linejoin="round" stroke-linecap="butt"/>
<circle cx="970.85" cy="277.9" r="7.8" fill="#000"/>
<path d="M909.6 409.8L1005.7 408.9" stroke="#000" stroke-width="2.45" fill="none" stroke-linecap="round"/>
<path d="M1025.1 409.15L995.5 398.2L1004.7 408.9L995.5 420.4Z" fill="#000"/>
<text class="r" font-size="41.7" fill="#303030" stroke="#fff" stroke-width="0.1" transform="translate(726.2 112.68) scale(0.945 1)" text-anchor="end">0.04</text>
<text class="r" font-size="41.7" fill="#303030" stroke="#fff" stroke-width="0.1" transform="translate(726.2 193.54) scale(0.945 1)" text-anchor="end">0.02</text>
<text class="r" font-size="41.7" fill="#303030" stroke="#fff" stroke-width="0.1" transform="translate(726.2 274.4) scale(0.945 1)" text-anchor="end">0</text>
<text class="r" font-size="41.7" fill="#303030" stroke="#fff" stroke-width="0.1" transform="translate(726.2 355.26) scale(0.945 1)" text-anchor="end">-0.02</text>
<text class="r" font-size="41.7" fill="#303030" stroke="#fff" stroke-width="0.1" transform="translate(726.2 436.12) scale(0.945 1)" text-anchor="end">-0.04</text>
<text class="r" font-size="41.7" fill="#303030" stroke="#fff" stroke-width="0.1" transform="translate(816.62 512.4) scale(0.945 1)" text-anchor="middle">-10</text>
<text class="r" font-size="41.7" fill="#303030" stroke="#fff" stroke-width="0.1" transform="translate(970.65 512.4) scale(0.945 1)" text-anchor="middle">0</text>
<text class="r" font-size="41.7" fill="#303030" stroke="#fff" stroke-width="0.1" transform="translate(1124.68 512.4) scale(0.945 1)" text-anchor="middle">10</text>
<text><tspan class="b" font-size="35.3" x="668.68" y="35.1" textLength="23.96" lengthAdjust="spacingAndGlyphs" fill="#231f20">B</tspan></text>
<text><tspan class="r" font-size="47.88" x="867.6" y="559.9" textLength="12.87" lengthAdjust="spacingAndGlyphs" stroke="#fff" stroke-width="0.2">(</tspan><tspan class="i" font-size="44" x="883.88" y="558.9" textLength="21.09" lengthAdjust="spacingAndGlyphs" stroke="#000" stroke-width="0.3">x</tspan> <tspan class="r" font-size="44" x="916.95" y="562.4" textLength="32.26" lengthAdjust="spacingAndGlyphs" stroke="#000" stroke-width="0.3">−</tspan> <tspan class="i" font-size="44" x="960.1" y="558.9" stroke="#000" stroke-width="0.3">v</tspan><tspan class="i" font-size="44" x="982.97" y="558.9" stroke="#000" stroke-width="0.3">t</tspan><tspan class="r" font-size="47.88" x="999.35" y="559.9" textLength="12.87" lengthAdjust="spacingAndGlyphs" stroke="#fff" stroke-width="0.2">)</tspan><tspan class="r" font-size="64.72" x="1016.1" y="568.85" textLength="17.80" lengthAdjust="spacingAndGlyphs" stroke="#fff" stroke-width="0.5">/</tspan><tspan class="r" font-size="44" x="1037.23" y="558.9" textLength="25.17" lengthAdjust="spacingAndGlyphs">λ</tspan><tspan class="i" font-size="31" x="1061.15" y="566.1" stroke="#000" stroke-width="0.12">c</tspan></text>
</g>
<g id="panel2">
<path d="M1408.32 57.95V462.25M1485.33 57.95V462.25M1562.35 57.95V462.25M1639.37 57.95V462.25M1716.38 57.95V462.25" stroke="#dfdfdf" stroke-width="1.1" fill="none"/>
<path d="M1331.3 421.82H1793.4M1331.3 340.96H1793.4M1331.3 260.1H1793.4M1331.3 179.24H1793.4M1331.3 98.38H1793.4" stroke="#dadada" stroke-width="1.35" fill="none"/>
<path d="M1408.32 462.25v-5.3M1408.32 57.95v5.3M1485.33 462.25v-5.3M1485.33 57.95v5.3M1562.35 462.25v-5.3M1562.35 57.95v5.3M1639.37 462.25v-5.3M1639.37 57.95v5.3M1716.38 462.25v-5.3M1716.38 57.95v5.3M1331.3 421.82h5.3M1793.4 421.82h-5.3M1331.3 340.96h5.3M1793.4 340.96h-5.3M1331.3 260.1h5.3M1793.4 260.1h-5.3M1331.3 179.24h5.3M1793.4 179.24h-5.3M1331.3 98.38h5.3M1793.4 98.38h-5.3" stroke="#262626" stroke-width="1.2" fill="none"/>
<rect x="1331.3" y="57.95" width="462.1" height="404.3" rx="0.6" fill="none" stroke="#262626" stroke-width="1.3"/>
<rect x="1769.98" y="72.55" width="15.71" height="10.95" fill="#b3b3b3"/>
<text><tspan class="i" font-size="38.5" x="1339.04" y="96.3" textLength="18.11" lengthAdjust="spacingAndGlyphs" stroke="#000" stroke-width="0.3">v</tspan><tspan class="r" font-size="58.74" x="1361.5" y="104.81" textLength="15.50" lengthAdjust="spacingAndGlyphs" stroke="#fff" stroke-width="0.45">/</tspan><tspan class="i" font-size="36.5" x="1379.85" y="96.3" textLength="16.52" lengthAdjust="spacingAndGlyphs" stroke="#000" stroke-width="0.3">c</tspan> <tspan class="r" font-size="31.2" x="1406.27" y="97.25" textLength="32.03" lengthAdjust="spacingAndGlyphs" stroke="#000" stroke-width="0.3">=</tspan> <tspan class="r" font-size="42.8" x="1448.62" y="96.4" textLength="19.47" lengthAdjust="spacingAndGlyphs">0</tspan><tspan class="r" font-size="40.2" x="1468.55" y="96.3">.</tspan><tspan class="r" font-size="42.8" x="1478.55" y="96.3" textLength="20.89" lengthAdjust="spacingAndGlyphs">7</tspan></text>
<polyline points="1331.30,278.45 1331.55,265.91 1331.80,253.32 1332.05,240.78 1332.30,228.42 1332.55,216.33 1332.80,204.63 1333.05,193.41 1333.30,182.77 1333.55,172.82 1333.80,163.62 1334.05,155.27 1334.30,147.83 1334.55,141.37 1334.80,135.96 1335.05,131.62 1335.30,128.42 1335.55,126.36 1335.80,125.47 1336.05,125.76 1336.30,127.22 1336.55,129.85 1336.80,133.61 1337.05,138.48 1337.29,144.41 1337.54,151.36 1337.79,159.25 1338.04,168.03 1338.29,177.61 1338.54,187.91 1338.79,198.84 1339.04,210.31 1339.29,222.22 1339.54,234.45 1339.79,246.91 1340.04,259.49 1340.29,272.07 1340.54,284.54 1340.79,296.80 1341.04,308.74 1341.29,320.26 1341.54,331.25 1341.79,341.62 1342.04,351.27 1342.29,360.13 1342.54,368.11 1342.79,375.15 1343.04,381.19 1343.29,386.16 1343.54,390.04 1343.79,392.77 1344.04,394.35 1344.29,394.75 1344.54,393.98 1344.79,392.04 1345.04,388.94 1345.29,384.72 1345.54,379.40 1345.79,373.05 1346.04,365.70 1346.29,357.44 1346.54,348.32 1346.79,338.43 1347.04,327.86 1347.29,316.69 1347.54,305.03 1347.79,292.97 1348.04,280.63 1348.29,268.11 1348.54,255.52 1348.78,242.97 1349.03,230.57 1349.28,218.43 1349.53,206.65 1349.78,195.34 1350.03,184.59 1350.28,174.50 1350.53,165.17 1350.78,156.66 1351.03,149.05 1351.28,142.42 1351.53,136.82 1351.78,132.29 1352.03,128.88 1352.28,126.62 1352.53,125.52 1352.78,125.61 1353.03,126.86 1353.28,129.28 1353.53,132.85 1353.78,137.53 1354.03,143.28 1354.28,150.05 1354.53,157.78 1354.78,166.41 1355.03,175.85 1355.28,186.04 1355.53,196.87 1355.78,208.25 1356.03,220.09 1356.28,232.27 1356.53,244.70 1356.78,257.27 1357.03,269.86 1357.28,282.36 1357.53,294.68 1357.78,306.68 1358.03,318.28 1358.28,329.38 1358.53,339.87 1358.78,349.66 1359.03,358.66 1359.28,366.81 1359.53,374.02 1359.78,380.24 1360.03,385.41 1360.27,389.48 1360.52,392.42 1360.77,394.21 1361.02,394.82 1361.27,394.25 1361.52,392.51 1361.77,389.62 1362.02,385.59 1362.27,380.47 1362.52,374.29 1362.77,367.11 1363.02,359.00 1363.27,350.02 1363.52,340.26 1363.77,329.80 1364.02,318.73 1364.27,307.14 1364.52,295.14 1364.77,282.84 1365.02,270.34 1365.27,257.75 1365.52,245.17 1365.77,232.73 1366.02,220.53 1366.27,208.67 1366.52,197.26 1366.77,186.40 1367.02,176.19 1367.27,166.71 1367.52,158.04 1367.77,150.27 1368.02,143.46 1368.27,137.66 1368.52,132.94 1368.77,129.33 1369.02,126.86 1369.27,125.55 1369.52,125.42 1369.77,126.47 1370.02,128.69 1370.27,132.06 1370.52,136.54 1370.77,142.11 1371.02,148.70 1371.27,156.27 1371.52,164.75 1371.76,174.07 1372.01,184.13 1372.26,194.86 1372.51,206.16 1372.76,217.93 1373.01,230.07 1373.26,242.48 1373.51,255.03 1373.76,267.64 1374.01,280.17 1374.26,292.54 1374.51,304.61 1374.76,316.30 1375.01,327.50 1375.26,338.11 1375.51,348.04 1375.76,357.20 1376.01,365.51 1376.26,372.90 1376.51,379.31 1376.76,384.67 1377.01,388.94 1377.26,392.09 1377.51,394.08 1377.76,394.91 1378.01,394.55 1378.26,393.02 1378.51,390.33 1378.76,386.50 1379.01,381.56 1379.26,375.56 1379.51,368.55 1379.76,360.60 1380.01,351.76 1380.26,342.12 1380.51,331.77 1380.76,320.79 1381.01,309.28 1381.26,297.34 1381.51,285.07 1381.76,272.58 1382.01,259.98 1382.26,247.39 1382.51,234.90 1382.76,222.64 1383.01,210.70 1383.26,199.19 1383.50,188.22 1383.75,177.87 1384.00,168.24 1384.25,159.42 1384.50,151.47 1384.75,144.48 1385.00,138.49 1385.25,133.57 1385.50,129.75 1385.75,127.07 1386.00,125.56 1386.25,125.22 1386.50,126.06 1386.75,128.07 1387.00,131.23 1387.25,135.53 1387.50,140.91 1387.75,147.33 1388.00,154.74 1388.25,163.07 1388.50,172.25 1388.75,182.20 1389.00,192.83 1389.25,204.05 1389.50,215.76 1389.75,227.85 1390.00,240.23 1390.25,252.79 1390.50,265.40 1390.75,277.97 1391.00,290.39 1391.25,302.54 1391.50,314.32 1391.75,325.63 1392.00,336.37 1392.25,346.43 1392.50,355.75 1392.75,364.23 1393.00,371.80 1393.25,378.39 1393.50,383.95 1393.75,388.43 1394.00,391.78 1394.25,393.99 1394.50,395.02 1394.75,394.88 1394.99,393.55 1395.24,391.06 1395.49,387.43 1395.74,382.68 1395.99,376.86 1396.24,370.02 1396.49,362.21 1396.74,353.52 1396.99,344.01 1397.24,333.76 1397.49,322.87 1397.74,311.43 1397.99,299.54 1398.24,287.31 1398.49,274.83 1398.74,262.23 1398.99,249.61 1399.24,237.08 1399.49,224.75 1399.74,212.73 1399.99,201.12 1400.24,190.03 1400.49,179.54 1400.74,169.77 1400.99,160.78 1401.24,152.66 1401.49,145.48 1401.74,139.30 1401.99,134.17 1402.24,130.15 1402.49,127.26 1402.74,125.54 1402.99,124.99 1403.24,125.62 1403.49,127.42 1403.74,130.39 1403.99,134.49 1404.24,139.69 1404.49,145.94 1404.74,153.19 1404.99,161.38 1405.24,170.43 1405.49,180.26 1405.74,190.79 1405.99,201.93 1406.24,213.57 1406.48,225.63 1406.73,237.99 1406.98,250.54 1407.23,263.17 1407.48,275.78 1407.73,288.25 1407.98,300.48 1408.23,312.35 1408.48,323.77 1408.73,334.63 1408.98,344.84 1409.23,354.32 1409.48,362.96 1409.73,370.71 1409.98,377.50 1410.23,383.25 1410.48,387.93 1410.73,391.50 1410.98,393.91 1411.23,395.16 1411.48,395.22 1411.73,394.10 1411.98,391.81 1412.23,388.37 1412.48,383.81 1412.73,378.17 1412.98,371.49 1413.23,363.84 1413.48,355.29 1413.73,345.90 1413.98,335.75 1414.23,324.95 1414.48,313.58 1414.73,301.74 1414.98,289.54 1415.23,277.08 1415.48,264.47 1415.73,251.82 1415.98,239.24 1416.23,226.84 1416.48,214.74 1416.73,203.03 1416.98,191.81 1417.23,181.20 1417.48,171.27 1417.73,162.12 1417.97,153.82 1418.22,146.46 1418.47,140.08 1418.72,134.76 1418.97,130.53 1419.22,127.43 1419.47,125.50 1419.72,124.74 1419.97,125.16 1420.22,126.76 1420.47,129.53 1420.72,133.44 1420.97,138.46 1421.22,144.54 1421.47,151.64 1421.72,159.68 1421.97,168.60 1422.22,178.32 1422.47,188.75 1422.72,199.81 1422.97,211.40 1423.22,223.42 1423.47,235.75 1423.72,248.30 1423.97,260.96 1424.22,273.60 1424.47,286.13 1424.72,298.44 1424.97,310.41 1425.22,321.94 1425.47,332.93 1425.72,343.28 1425.97,352.91 1426.22,361.73 1426.47,369.65 1426.72,376.63 1426.97,382.58 1427.22,387.46 1427.47,391.23 1427.72,393.86 1427.97,395.31 1428.22,395.58 1428.47,394.67 1428.72,392.58 1428.97,389.33 1429.22,384.95 1429.47,379.48 1429.71,372.97 1429.96,365.47 1430.21,357.05 1430.46,347.78 1430.71,337.74 1430.96,327.02 1431.21,315.72 1431.46,303.92 1431.71,291.75 1431.96,279.30 1432.21,266.68 1432.46,254.00 1432.71,241.37 1432.96,228.90 1433.21,216.71 1433.46,204.90 1433.71,193.57 1433.96,182.81 1434.21,172.74 1434.46,163.42 1434.71,154.96 1434.96,147.41 1435.21,140.84 1435.46,135.32 1435.71,130.89 1435.96,127.58 1436.21,125.44 1436.46,124.47 1436.71,124.69 1436.96,126.10 1437.21,128.67 1437.46,132.39 1437.71,137.24 1437.96,143.15 1438.21,150.09 1438.46,157.99 1438.71,166.79 1438.96,176.40 1439.21,186.74 1439.46,197.73 1439.71,209.26 1439.96,221.24 1440.21,233.56 1440.46,246.11 1440.71,258.78 1440.96,271.47 1441.20,284.06 1441.45,296.44 1441.70,308.50 1441.95,320.15 1442.20,331.26 1442.45,341.76 1442.70,351.54 1442.95,360.52 1443.20,368.63 1443.45,375.79 1443.70,381.93 1443.95,387.02 1444.20,390.99 1444.45,393.82 1444.70,395.47 1444.95,395.95 1445.20,395.24 1445.45,393.34 1445.70,390.28 1445.95,386.08 1446.20,380.78 1446.45,374.43 1446.70,367.07 1446.95,358.78 1447.20,349.62 1447.45,339.68 1447.70,329.05 1447.95,317.81 1448.20,306.06 1448.45,293.91 1448.70,281.47 1448.95,268.83 1449.20,256.12 1449.45,243.45 1449.70,230.91 1449.95,218.64 1450.20,206.72 1450.45,195.27 1450.70,184.39 1450.95,174.16 1451.20,164.69 1451.45,156.05 1451.70,148.32 1451.95,141.57 1452.20,135.85 1452.45,131.22 1452.69,127.72 1452.94,125.37 1453.19,124.21 1453.44,124.23 1453.69,125.44 1453.94,127.82 1454.19,131.37 1454.44,136.04 1454.69,141.79 1454.94,148.58 1455.19,156.35 1455.44,165.02 1455.69,174.53 1455.94,184.78 1456.19,195.70 1456.44,207.18 1456.69,219.12 1456.94,231.42 1457.19,243.98 1457.44,256.67 1457.69,269.40 1457.94,282.05 1458.19,294.50 1458.44,306.66 1458.69,318.41 1458.94,329.65 1459.19,340.28 1459.44,350.22 1459.69,359.36 1459.94,367.64 1460.19,374.98 1460.44,381.31 1460.69,386.59 1460.94,390.75 1461.19,393.78 1461.44,395.64 1461.69,396.31 1461.94,395.79 1462.19,394.08 1462.44,391.20 1462.69,387.18 1462.94,382.04 1463.19,375.83 1463.44,368.62 1463.69,360.45 1463.94,351.40 1464.18,341.56 1464.43,331.00 1464.68,319.82 1464.93,308.12 1465.18,296.00 1465.43,283.56 1465.68,270.91 1465.93,258.17 1466.18,245.45 1466.43,232.85 1466.68,220.49 1466.93,208.48 1467.18,196.91 1467.43,185.90 1467.68,175.54 1467.93,165.91 1468.18,157.11 1468.43,149.21 1468.68,142.28 1468.93,136.38 1469.18,131.56 1469.43,127.86 1469.68,125.32 1469.93,123.96 1470.18,123.79 1470.43,124.81 1470.68,127.02 1470.93,130.39 1471.18,134.89 1471.43,140.50 1471.68,147.14 1471.93,154.78 1472.18,163.34 1472.43,172.74 1472.68,182.91 1472.93,193.76 1473.18,205.19 1473.43,217.10 1473.68,229.38 1473.93,241.94 1474.18,254.65 1474.43,267.42 1474.68,280.12 1474.93,292.65 1475.18,304.89 1475.43,316.74 1475.68,328.10 1475.92,338.86 1476.17,348.94 1476.42,358.24 1476.67,366.68 1476.92,374.19 1477.17,380.70 1477.42,386.15 1477.67,390.51 1477.92,393.72 1478.17,395.77 1478.42,396.63 1478.67,396.29 1478.92,394.76 1479.17,392.06 1479.42,388.20 1479.67,383.21 1479.92,377.16 1480.17,370.07 1480.42,362.03 1480.67,353.09 1480.92,343.33 1481.17,332.85 1481.42,321.73 1481.67,310.07 1481.92,297.98 1482.17,285.55 1482.42,272.89 1482.67,260.13 1482.92,247.36 1483.17,234.70 1483.42,222.27 1483.67,210.16 1483.92,198.49 1484.17,187.36 1484.42,176.87 1484.67,167.10 1484.92,158.15 1485.17,150.08 1485.42,142.98 1485.67,136.91 1485.92,131.91 1486.17,128.03 1486.42,125.31 1486.67,123.76 1486.92,123.41 1487.17,124.26 1487.41,126.29 1487.66,129.50 1487.91,133.85 1488.16,139.30 1488.41,145.81 1488.66,153.32 1488.91,161.77 1489.16,171.08 1489.41,181.16 1489.66,191.94 1489.91,203.32 1490.16,215.19 1490.41,227.46 1490.66,240.01 1490.91,252.74 1491.16,265.53 1491.41,278.28 1491.66,290.87 1491.91,303.19 1492.16,315.14 1492.41,326.60 1492.66,337.48 1492.91,347.69 1493.16,357.13 1493.41,365.72 1493.66,373.39 1493.91,380.07 1494.16,385.69 1494.41,390.22 1494.66,393.61 1494.91,395.83 1495.16,396.87 1495.41,396.70 1495.66,395.35 1495.91,392.80 1496.16,389.10 1496.41,384.27 1496.66,378.35 1496.91,371.39 1497.16,363.47 1497.41,354.63 1497.66,344.97 1497.91,334.56 1498.16,323.51 1498.41,311.89 1498.66,299.83 1498.90,287.41 1499.15,274.76 1499.40,261.97 1499.65,249.17 1499.90,236.47 1500.15,223.97 1500.40,211.78 1500.65,200.02 1500.90,188.79 1501.15,178.17 1501.40,168.28 1501.65,159.19 1501.90,150.98 1502.15,143.72 1502.40,137.48 1502.65,132.32 1502.90,128.27 1503.15,125.38 1503.40,123.67 1503.65,123.15 1503.90,123.83 1504.15,125.70 1504.40,128.75 1504.65,132.95 1504.90,138.26 1505.15,144.63 1505.40,152.02 1505.65,160.36 1505.90,169.57 1506.15,179.57 1506.40,190.27 1506.65,201.59 1506.90,213.42 1507.15,225.66 1507.40,238.20 1507.65,250.94 1507.90,263.75 1508.15,276.53 1508.40,289.17 1508.65,301.56 1508.90,313.58 1509.15,325.13 1509.40,336.12 1509.65,346.44 1509.90,356.01 1510.15,364.73 1510.39,372.54 1510.64,379.37 1510.89,385.15 1511.14,389.84 1511.39,393.39 1511.64,395.78 1511.89,396.98 1512.14,396.98 1512.39,395.78 1512.64,393.40 1512.89,389.84 1513.14,385.15 1513.39,379.37 1513.64,372.55 1513.89,364.73 1514.14,356.01 1514.39,346.44 1514.64,336.12 1514.89,325.13 1515.14,313.57 1515.39,301.54 1515.64,289.15 1515.89,276.51 1516.14,263.72 1516.39,250.90 1516.64,238.16 1516.89,225.62 1517.14,213.37 1517.39,201.53 1517.64,190.21 1517.89,179.50 1518.14,169.49 1518.39,160.27 1518.64,151.93 1518.89,144.54 1519.14,138.16 1519.39,132.84 1519.64,128.64 1519.89,125.59 1520.14,123.72 1520.39,123.04 1520.64,123.56 1520.89,125.28 1521.14,128.18 1521.39,132.23 1521.64,137.40 1521.89,143.64 1522.13,150.91 1522.38,159.13 1522.63,168.23 1522.88,178.14 1523.13,188.77 1523.38,200.02 1523.63,211.79 1523.88,223.99 1524.13,236.51 1524.38,249.23 1524.63,262.05 1524.88,274.85 1525.13,287.52 1525.38,299.95 1525.63,312.03 1525.88,323.65 1526.13,334.72 1526.38,345.14 1526.63,354.81 1526.88,363.65 1527.13,371.59 1527.38,378.55 1527.63,384.47 1527.88,389.31 1528.13,393.01 1528.38,395.55 1528.63,396.90 1528.88,397.06 1529.13,396.02 1529.38,393.78 1529.63,390.38 1529.88,385.84 1530.13,380.19 1530.38,373.50 1530.63,365.81 1530.88,357.19 1531.13,347.73 1531.38,337.50 1531.63,326.60 1531.88,315.11 1532.13,303.14 1532.38,290.79 1532.63,278.18 1532.88,265.40 1533.13,252.58 1533.38,239.83 1533.62,227.26 1533.87,214.97 1534.12,203.08 1534.37,191.69 1534.62,180.90 1534.87,170.80 1535.12,161.48 1535.37,153.03 1535.62,145.51 1535.87,139.00 1536.12,133.55 1536.37,129.21 1536.62,126.01 1536.87,123.99 1537.12,123.15 1537.37,123.52 1537.62,125.08 1537.87,127.83 1538.12,131.73 1538.37,136.76 1538.62,142.86 1538.87,149.99 1539.12,158.08 1539.37,167.07 1539.62,176.87 1539.87,187.39 1540.12,198.56 1540.37,210.26 1540.62,222.39 1540.87,234.85 1541.12,247.53 1541.37,260.32 1541.62,273.10 1541.87,285.77 1542.12,298.21 1542.37,310.31 1542.62,321.97 1542.87,333.08 1543.12,343.55 1543.37,353.28 1543.62,362.18 1543.87,370.19 1544.12,377.22 1544.37,383.21 1544.62,388.12 1544.87,391.88 1545.11,394.48 1545.36,395.89 1545.61,396.08 1545.86,395.07 1546.11,392.84 1546.36,389.42 1546.61,384.84 1546.86,379.12 1547.11,372.32 1547.36,364.49 1547.61,355.70 1547.86,346.00 1548.11,335.49 1548.36,324.25 1548.61,312.36 1548.86,299.92 1549.11,287.03 1549.36,273.80 1549.61,260.33 1549.86,246.72 1550.11,233.09 1550.36,219.53 1550.61,206.16 1550.86,193.08 1551.11,180.38 1551.36,168.17 1551.61,156.53 1551.86,145.54 1552.11,135.29 1552.36,125.85 1552.61,117.29 1552.86,109.65 1553.11,102.99 1553.36,97.35 1553.61,92.76 1553.86,89.23 1554.11,86.79 1554.36,85.44 1554.61,85.17 1554.86,85.97 1555.11,87.81 1555.36,90.67 1555.61,94.51 1555.86,99.28 1556.11,104.93 1556.36,111.41 1556.60,118.64 1556.85,126.58 1557.10,135.13 1557.35,144.23 1557.60,153.80 1557.85,163.77 1558.10,174.04 1558.35,184.55 1558.60,195.22 1558.85,205.96 1559.10,216.71 1559.35,227.38 1559.60,237.91 1559.85,248.23 1560.10,258.28 1560.35,268.00 1560.60,277.35 1560.85,286.26 1561.10,294.71 1561.35,302.65 1561.60,310.05 1561.85,316.90 1562.10,323.16 1562.35,328.83 1562.60,333.89 1562.85,338.35 1563.10,342.21 1563.35,345.48 1563.60,348.16 1563.85,350.27 1564.10,351.83 1564.35,352.86 1564.60,353.40 1564.85,353.46 1565.10,353.07 1565.35,352.28 1565.60,351.10 1565.85,349.58 1566.10,347.75 1566.35,345.65 1566.60,343.30 1566.85,340.75 1567.10,338.01 1567.35,335.14 1567.60,332.15 1567.85,329.08 1568.10,325.95 1568.34,322.79 1568.59,319.63 1568.84,316.48 1569.09,313.36 1569.34,310.29 1569.59,307.29 1569.84,304.37 1570.09,301.54 1570.34,298.81 1570.59,296.19 1570.84,293.69 1571.09,291.30 1571.34,289.04 1571.59,286.90 1571.84,284.88 1572.09,282.99 1572.34,281.21 1572.59,279.56 1572.84,278.02 1573.09,276.58 1573.34,275.26 1573.59,274.03 1573.84,272.89 1574.09,271.84 1574.34,270.88 1574.59,269.99 1574.84,269.17 1575.09,268.41 1575.34,267.71 1575.59,267.07 1575.84,266.47 1576.09,265.92 1576.34,265.40 1576.59,264.92 1576.84,264.47 1577.09,264.05 1577.34,263.65 1577.59,263.27 1577.84,262.92 1578.09,262.58 1578.34,262.25 1578.59,261.94 1578.84,261.64 1579.09,261.36 1579.34,261.08 1579.59,260.82 1579.83,260.57 1580.08,260.34 1580.33,260.11 1580.58,259.90 1580.83,259.70 1581.08,259.51 1581.33,259.34 1581.58,259.19 1581.83,259.04 1582.08,258.92 1582.33,258.81 1582.58,258.72 1582.83,258.64 1583.08,258.59 1583.33,258.55 1583.58,258.52 1583.83,258.52 1584.08,258.53 1584.33,258.56 1584.58,258.61 1584.83,258.67 1585.08,258.75 1585.33,258.84 1585.58,258.95 1585.83,259.06 1586.08,259.19 1586.33,259.33 1586.58,259.47 1586.83,259.62 1587.08,259.78 1587.33,259.94 1587.58,260.10 1587.83,260.26 1588.08,260.42 1588.33,260.58 1588.58,260.73 1588.83,260.87 1589.08,261.01 1589.33,261.14 1589.58,261.26 1589.83,261.36 1590.08,261.45 1590.33,261.53 1590.58,261.60 1590.83,261.65 1591.08,261.68 1591.32,261.70 1591.57,261.70 1591.82,261.68 1592.07,261.65 1592.32,261.60 1592.57,261.54 1592.82,261.47 1593.07,261.38 1593.32,261.27 1593.57,261.16 1593.82,261.03 1594.07,260.90 1594.32,260.75 1594.57,260.60 1594.82,260.45 1595.07,260.29 1595.32,260.13 1595.57,259.97 1595.82,259.81 1596.07,259.66 1596.32,259.50 1596.57,259.36 1596.82,259.22 1597.07,259.09 1597.32,258.98 1597.57,258.87 1597.82,258.77 1598.07,258.69 1598.32,258.63 1598.57,258.58 1598.82,258.54 1599.07,258.52 1599.32,258.52 1599.57,258.53 1599.82,258.56 1600.07,258.60 1600.32,258.66 1600.57,258.74 1600.82,258.83 1601.07,258.93 1601.32,259.04 1601.57,259.16 1601.82,259.30 1602.07,259.44 1602.32,259.59 1602.57,259.74 1602.81,259.89 1603.06,260.05 1603.31,260.21 1603.56,260.37 1603.81,260.52 1604.06,260.68 1604.31,260.82 1604.56,260.96 1604.81,261.08 1605.06,261.20 1605.31,261.31 1605.56,261.40 1605.81,261.48 1606.06,261.55 1606.31,261.60 1606.56,261.64 1606.81,261.66 1607.06,261.66 1607.31,261.65 1607.56,261.63 1607.81,261.58 1608.06,261.52 1608.31,261.45 1608.56,261.36 1608.81,261.27 1609.06,261.15 1609.31,261.03 1609.56,260.90 1609.81,260.76 1610.06,260.61 1610.31,260.46 1610.56,260.31 1610.81,260.15 1611.06,259.99 1611.31,259.84 1611.56,259.68 1611.81,259.53 1612.06,259.39 1612.31,259.26 1612.56,259.13 1612.81,259.01 1613.06,258.91 1613.31,258.81 1613.56,258.73 1613.81,258.67 1614.06,258.61 1614.31,258.58 1614.55,258.56 1614.80,258.55 1615.05,258.56 1615.30,258.59 1615.55,258.63 1615.80,258.69 1616.05,258.76 1616.30,258.85 1616.55,258.95 1616.80,259.06 1617.05,259.18 1617.30,259.31 1617.55,259.45 1617.80,259.60 1618.05,259.75 1618.30,259.90 1618.55,260.06 1618.80,260.21 1619.05,260.37 1619.30,260.52 1619.55,260.67 1619.80,260.81 1620.05,260.94 1620.30,261.07 1620.55,261.18 1620.80,261.29 1621.05,261.38 1621.30,261.46 1621.55,261.52 1621.80,261.57 1622.05,261.61 1622.30,261.63 1622.55,261.63 1622.80,261.62 1623.05,261.59 1623.30,261.55 1623.55,261.49 1623.80,261.41 1624.05,261.33 1624.30,261.23 1624.55,261.12 1624.80,261.00 1625.05,260.87 1625.30,260.73 1625.55,260.58 1625.80,260.43 1626.04,260.28 1626.29,260.13 1626.54,259.97 1626.79,259.82 1627.04,259.67 1627.29,259.52 1627.54,259.38 1627.79,259.25 1628.04,259.13 1628.29,259.01 1628.54,258.91 1628.79,258.82 1629.04,258.75 1629.29,258.68 1629.54,258.64 1629.79,258.61 1630.04,258.59 1630.29,258.59 1630.54,258.60 1630.79,258.63 1631.04,258.68 1631.29,258.74 1631.54,258.81 1631.79,258.90 1632.04,259.00 1632.29,259.11 1632.54,259.23 1632.79,259.37 1633.04,259.50 1633.29,259.65 1633.54,259.80 1633.79,259.95 1634.04,260.10 1634.29,260.26 1634.54,260.41 1634.79,260.56 1635.04,260.70 1635.29,260.84 1635.54,260.97 1635.79,261.09 1636.04,261.20 1636.29,261.29 1636.54,261.38 1636.79,261.45 1637.04,261.51 1637.29,261.55 1637.53,261.58 1637.78,261.60 1638.03,261.59 1638.28,261.58 1638.53,261.54 1638.78,261.49 1639.03,261.43 1639.28,261.35 1639.53,261.26 1639.78,261.16 1640.03,261.05 1640.28,260.92 1640.53,260.79 1640.78,260.65 1641.03,260.51 1641.28,260.36 1641.53,260.21 1641.78,260.06 1642.03,259.91 1642.28,259.76 1642.53,259.61 1642.78,259.47 1643.03,259.34 1643.28,259.21 1643.53,259.09 1643.78,258.99 1644.03,258.89 1644.28,258.81 1644.53,258.74 1644.78,258.69 1645.03,258.65 1645.28,258.63 1645.53,258.62 1645.78,258.63 1646.03,258.65 1646.28,258.69 1646.53,258.74 1646.78,258.81 1647.03,258.89 1647.28,258.98 1647.53,259.09 1647.78,259.20 1648.03,259.33 1648.28,259.46 1648.53,259.60 1648.78,259.74 1649.02,259.89 1649.27,260.04 1649.52,260.19 1649.77,260.34 1650.02,260.49 1650.27,260.63 1650.52,260.77 1650.77,260.90 1651.02,261.02 1651.27,261.13 1651.52,261.23 1651.77,261.32 1652.02,261.40 1652.27,261.46 1652.52,261.51 1652.77,261.54 1653.02,261.56 1653.27,261.56 1653.52,261.55 1653.77,261.52 1654.02,261.48 1654.27,261.42 1654.52,261.35 1654.77,261.27 1655.02,261.17 1655.27,261.06 1655.52,260.94 1655.77,260.82 1656.02,260.68 1656.27,260.54 1656.52,260.40 1656.77,260.25 1657.02,260.10 1657.27,259.95 1657.52,259.80 1657.77,259.66 1658.02,259.52 1658.27,259.38 1658.52,259.26 1658.77,259.14 1659.02,259.04 1659.27,258.94 1659.52,258.86 1659.77,258.79 1660.02,258.73 1660.27,258.69 1660.52,258.66 1660.76,258.65 1661.01,258.66 1661.26,258.68 1661.51,258.71 1661.76,258.76 1662.01,258.82 1662.26,258.90 1662.51,258.99 1662.76,259.09 1663.01,259.20 1663.26,259.32 1663.51,259.45 1663.76,259.59 1664.01,259.73 1664.26,259.88 1664.51,260.02 1664.76,260.17 1665.01,260.32 1665.26,260.46 1665.51,260.61 1665.76,260.74 1666.01,260.87 1666.26,260.99 1666.51,261.10 1666.76,261.20 1667.01,261.29 1667.26,261.37 1667.51,261.43 1667.76,261.48 1668.01,261.51 1668.26,261.53 1668.51,261.53 1668.76,261.52 1669.01,261.49 1669.26,261.45 1669.51,261.39 1669.76,261.32 1670.01,261.24 1670.26,261.15 1670.51,261.04 1670.76,260.92 1671.01,260.80 1671.26,260.67 1671.51,260.53 1671.76,260.39 1672.01,260.24 1672.25,260.10 1672.50,259.95 1672.75,259.80 1673.00,259.66 1673.25,259.53 1673.50,259.39 1673.75,259.27 1674.00,259.16 1674.25,259.05 1674.50,258.96 1674.75,258.88 1675.00,258.81 1675.25,258.76 1675.50,258.72 1675.75,258.69 1676.00,258.68 1676.25,258.69 1676.50,258.71 1676.75,258.75 1677.00,258.80 1677.25,258.86 1677.50,258.94 1677.75,259.03 1678.00,259.13 1678.25,259.24 1678.50,259.36 1678.75,259.49 1679.00,259.62 1679.25,259.76 1679.50,259.90 1679.75,260.05 1680.00,260.19 1680.25,260.34 1680.50,260.48 1680.75,260.62 1681.00,260.75 1681.25,260.88 1681.50,260.99 1681.75,261.10 1682.00,261.20 1682.25,261.28 1682.50,261.35 1682.75,261.41 1683.00,261.45 1683.25,261.48 1683.50,261.50 1683.74,261.50 1683.99,261.48 1684.24,261.45 1684.49,261.41 1684.74,261.35 1684.99,261.28 1685.24,261.19 1685.49,261.10 1685.74,260.99 1685.99,260.87 1686.24,260.75 1686.49,260.62 1686.74,260.48 1686.99,260.34 1687.24,260.20 1687.49,260.05 1687.74,259.91 1687.99,259.77 1688.24,259.63 1688.49,259.50 1688.74,259.37 1688.99,259.25 1689.24,259.14 1689.49,259.04 1689.74,258.96 1689.99,258.88 1690.24,258.82 1690.49,258.77 1690.74,258.74 1690.99,258.72 1691.24,258.72 1691.49,258.73 1691.74,258.75 1691.99,258.79 1692.24,258.85 1692.49,258.92 1692.74,259.00 1692.99,259.09 1693.24,259.19 1693.49,259.31 1693.74,259.43 1693.99,259.56 1694.24,259.69 1694.49,259.83 1694.74,259.97 1694.99,260.11 1695.23,260.26 1695.48,260.40 1695.73,260.53 1695.98,260.67 1696.23,260.79 1696.48,260.91 1696.73,261.02 1696.98,261.12 1697.23,261.21 1697.48,261.29 1697.73,261.35 1697.98,261.40 1698.23,261.44 1698.48,261.46 1698.73,261.47 1698.98,261.46 1699.23,261.44 1699.48,261.40 1699.73,261.35 1699.98,261.28 1700.23,261.21 1700.48,261.12 1700.73,261.02 1700.98,260.91 1701.23,260.79 1701.48,260.66 1701.73,260.53 1701.98,260.39 1702.23,260.25 1702.48,260.11 1702.73,259.97 1702.98,259.83 1703.23,259.69 1703.48,259.56 1703.73,259.43 1703.98,259.31 1704.23,259.20 1704.48,259.10 1704.73,259.01 1704.98,258.93 1705.23,258.87 1705.48,258.82 1705.73,258.78 1705.98,258.76 1706.23,258.75 1706.48,258.75 1706.73,258.77 1706.97,258.81 1707.22,258.86 1707.47,258.92 1707.72,259.00 1707.97,259.08 1708.22,259.18 1708.47,259.29 1708.72,259.41 1708.97,259.53 1709.22,259.66 1709.47,259.80 1709.72,259.94 1709.97,260.08 1710.22,260.22 1710.47,260.35 1710.72,260.49 1710.97,260.62 1711.22,260.75 1711.47,260.87 1711.72,260.98 1711.97,261.08 1712.22,261.17 1712.47,261.25 1712.72,261.31 1712.97,261.36 1713.22,261.40 1713.47,261.43 1713.72,261.44 1713.97,261.43 1714.22,261.41 1714.47,261.38 1714.72,261.33 1714.97,261.27 1715.22,261.20 1715.47,261.11 1715.72,261.01 1715.97,260.91 1716.22,260.79 1716.47,260.67 1716.72,260.54 1716.97,260.40 1717.22,260.27 1717.47,260.13 1717.72,259.99 1717.97,259.85 1718.22,259.72 1718.46,259.59 1718.71,259.46 1718.96,259.34 1719.21,259.23 1719.46,259.13 1719.71,259.04 1719.96,258.97 1720.21,258.90 1720.46,258.85 1720.71,258.81 1720.96,258.79 1721.21,258.78 1721.46,258.78 1721.71,258.80 1721.96,258.84 1722.21,258.88 1722.46,258.94 1722.71,259.02 1722.96,259.10 1723.21,259.20 1723.46,259.31 1723.71,259.42 1723.96,259.54 1724.21,259.67 1724.46,259.80 1724.71,259.94 1724.96,260.08 1725.21,260.21 1725.46,260.35 1725.71,260.48 1725.96,260.61 1726.21,260.74 1726.46,260.85 1726.71,260.96 1726.96,261.06 1727.21,261.15 1727.46,261.22 1727.71,261.29 1727.96,261.34 1728.21,261.38 1728.46,261.40 1728.71,261.41 1728.96,261.40 1729.21,261.38 1729.46,261.35 1729.71,261.30 1729.95,261.24 1730.20,261.16 1730.45,261.08 1730.70,260.98 1730.95,260.87 1731.20,260.76 1731.45,260.64 1731.70,260.51 1731.95,260.38 1732.20,260.24 1732.45,260.11 1732.70,259.97 1732.95,259.84 1733.20,259.70 1733.45,259.58 1733.70,259.46 1733.95,259.34 1734.20,259.24 1734.45,259.14 1734.70,259.05 1734.95,258.98 1735.20,258.92 1735.45,258.87 1735.70,258.84 1735.95,258.81 1736.20,258.81 1736.45,258.82 1736.70,258.84 1736.95,258.87 1737.20,258.92 1737.45,258.99 1737.70,259.06 1737.95,259.15 1738.20,259.25 1738.45,259.35 1738.70,259.47 1738.95,259.59 1739.20,259.72 1739.45,259.85 1739.70,259.98 1739.95,260.12 1740.20,260.25 1740.45,260.38 1740.70,260.51 1740.95,260.64 1741.20,260.76 1741.44,260.87 1741.69,260.97 1741.94,261.07 1742.19,261.15 1742.44,261.22 1742.69,261.28 1742.94,261.32 1743.19,261.36 1743.44,261.37 1743.69,261.38 1743.94,261.37 1744.19,261.34 1744.44,261.30 1744.69,261.25 1744.94,261.18 1745.19,261.11 1745.44,261.02 1745.69,260.92 1745.94,260.81 1746.19,260.70 1746.44,260.58 1746.69,260.45 1746.94,260.32 1747.19,260.18 1747.44,260.05 1747.69,259.92 1747.94,259.79 1748.19,259.66 1748.44,259.54 1748.69,259.42 1748.94,259.31 1749.19,259.21 1749.44,259.12 1749.69,259.04 1749.94,258.98 1750.19,258.92 1750.44,258.88 1750.69,258.85 1750.94,258.84 1751.19,258.84 1751.44,258.86 1751.69,258.88 1751.94,258.93 1752.19,258.98 1752.44,259.05 1752.69,259.13 1752.94,259.22 1753.18,259.32 1753.43,259.43 1753.68,259.55 1753.93,259.67 1754.18,259.80 1754.43,259.93 1754.68,260.06 1754.93,260.19 1755.18,260.32 1755.43,260.45 1755.68,260.58 1755.93,260.70 1756.18,260.81 1756.43,260.91 1756.68,261.01 1756.93,261.10 1757.18,261.17 1757.43,261.23 1757.68,261.28 1757.93,261.32 1758.18,261.34 1758.43,261.35 1758.68,261.34 1758.93,261.32 1759.18,261.29 1759.43,261.24 1759.68,261.18 1759.93,261.11 1760.18,261.03 1760.43,260.93 1760.68,260.83 1760.93,260.72 1761.18,260.60 1761.43,260.48 1761.68,260.35 1761.93,260.22 1762.18,260.09 1762.43,259.96 1762.68,259.83 1762.93,259.70 1763.18,259.58 1763.43,259.47 1763.68,259.36 1763.93,259.26 1764.18,259.17 1764.43,259.09 1764.67,259.02 1764.92,258.96 1765.17,258.92 1765.42,258.89 1765.67,258.87 1765.92,258.87 1766.17,258.88 1766.42,258.90 1766.67,258.94 1766.92,259.00 1767.17,259.06 1767.42,259.14 1767.67,259.22 1767.92,259.32 1768.17,259.42 1768.42,259.54 1768.67,259.66 1768.92,259.78 1769.17,259.91 1769.42,260.04 1769.67,260.17 1769.92,260.30 1770.17,260.42 1770.42,260.55 1770.67,260.67 1770.92,260.78 1771.17,260.88 1771.42,260.98 1771.67,261.06 1771.92,261.14 1772.17,261.20 1772.42,261.25 1772.67,261.29 1772.92,261.31 1773.17,261.32 1773.42,261.31 1773.67,261.30 1773.92,261.26 1774.17,261.22 1774.42,261.16 1774.67,261.09 1774.92,261.01 1775.17,260.92 1775.42,260.82 1775.67,260.71 1775.92,260.60 1776.16,260.48 1776.41,260.35 1776.66,260.22 1776.91,260.09 1777.16,259.97 1777.41,259.84 1777.66,259.71 1777.91,259.59 1778.16,259.48 1778.41,259.37 1778.66,259.28 1778.91,259.19 1779.16,259.11 1779.41,259.04 1779.66,258.99 1779.91,258.94 1780.16,258.91 1780.41,258.90 1780.66,258.90 1780.91,258.91 1781.16,258.93 1781.41,258.97 1781.66,259.02 1781.91,259.09 1782.16,259.16 1782.41,259.25 1782.66,259.35 1782.91,259.45 1783.16,259.56 1783.41,259.68 1783.66,259.80 1783.91,259.93 1784.16,260.05 1784.41,260.18 1784.66,260.31 1784.91,260.43 1785.16,260.55 1785.41,260.67 1785.66,260.78 1785.91,260.88 1786.16,260.97 1786.41,261.05 1786.66,261.12 1786.91,261.18 1787.16,261.23 1787.41,261.26 1787.65,261.28 1787.90,261.29 1788.15,261.28 1788.40,261.26 1788.65,261.23 1788.90,261.18 1789.15,261.12 1789.40,261.05 1789.65,260.97 1789.90,260.88 1790.15,260.78 1790.40,260.67 1790.65,260.56 1790.90,260.44 1791.15,260.32 1791.40,260.19 1791.65,260.06 1791.90,259.94 1792.15,259.81 1792.40,259.69 1792.65,259.58 1792.90,259.47 1793.15,259.36 1793.40,259.27" fill="none" stroke="#0000ff" stroke-width="4.6" stroke-linejoin="round" stroke-linecap="butt"/>
<circle cx="1562.35" cy="328.83" r="7.8" fill="#000"/>
<path d="M1503.6 409.8L1599.7 408.9" stroke="#000" stroke-width="2.45" fill="none" stroke-linecap="round"/>
<path d="M1619.1 409.15L1589.5 398.2L1598.7 408.9L1589.5 420.4Z" fill="#000"/>
<text class="r" font-size="41.7" fill="#303030" stroke="#fff" stroke-width="0.1" transform="translate(1317.7 112.68) scale(0.945 1)" text-anchor="end">0.04</text>
<text class="r" font-size="41.7" fill="#303030" stroke="#fff" stroke-width="0.1" transform="translate(1317.7 193.54) scale(0.945 1)" text-anchor="end">0.02</text>
<text class="r" font-size="41.7" fill="#303030" stroke="#fff" stroke-width="0.1" transform="translate(1317.7 274.4) scale(0.945 1)" text-anchor="end">0</text>
<text class="r" font-size="41.7" fill="#303030" stroke="#fff" stroke-width="0.1" transform="translate(1317.7 355.26) scale(0.945 1)" text-anchor="end">-0.02</text>
<text class="r" font-size="41.7" fill="#303030" stroke="#fff" stroke-width="0.1" transform="translate(1317.7 436.12) scale(0.945 1)" text-anchor="end">-0.04</text>
<text class="r" font-size="41.7" fill="#303030" stroke="#fff" stroke-width="0.1" transform="translate(1408.12 512.4) scale(0.945 1)" text-anchor="middle">-10</text>
<text class="r" font-size="41.7" fill="#303030" stroke="#fff" stroke-width="0.1" transform="translate(1562.15 512.4) scale(0.945 1)" text-anchor="middle">0</text>
<text class="r" font-size="41.7" fill="#303030" stroke="#fff" stroke-width="0.1" transform="translate(1716.18 512.4) scale(0.945 1)" text-anchor="middle">10</text>
<text><tspan class="b" font-size="36.4" x="1259.76" y="37.85" textLength="25.37" lengthAdjust="spacingAndGlyphs" fill="#231f20">C</tspan></text>
<text><tspan class="r" font-size="47.88" x="1459.1" y="559.9" textLength="12.87" lengthAdjust="spacingAndGlyphs" stroke="#fff" stroke-width="0.2">(</tspan><tspan class="i" font-size="44" x="1475.38" y="558.9" textLength="21.09" lengthAdjust="spacingAndGlyphs" stroke="#000" stroke-width="0.3">x</tspan> <tspan class="r" font-size="44" x="1508.45" y="562.4" textLength="32.26" lengthAdjust="spacingAndGlyphs" stroke="#000" stroke-width="0.3">−</tspan> <tspan class="i" font-size="44" x="1551.6" y="558.9" stroke="#000" stroke-width="0.3">v</tspan><tspan class="i" font-size="44" x="1574.47" y="558.9" stroke="#000" stroke-width="0.3">t</tspan><tspan class="r" font-size="47.88" x="1590.85" y="559.9" textLength="12.87" lengthAdjust="spacingAndGlyphs" stroke="#fff" stroke-width="0.2">)</tspan><tspan class="r" font-size="64.72" x="1607.6" y="568.85" textLength="17.80" lengthAdjust="spacingAndGlyphs" stroke="#fff" stroke-width="0.5">/</tspan><tspan class="r" font-size="44" x="1628.73" y="558.9" textLength="25.17" lengthAdjust="spacingAndGlyphs">λ</tspan><tspan class="i" font-size="31" x="1652.65" y="566.1" stroke="#000" stroke-width="0.12">c</tspan></text>
</g>
<text><tspan class="r" font-size="39.5" x="480.1" y="115.9" textLength="20.30" lengthAdjust="spacingAndGlyphs">λ</tspan><tspan class="i" font-size="30.3" x="503.29" y="121.5" textLength="20.73" lengthAdjust="spacingAndGlyphs" stroke="#000" stroke-width="0.12">B</tspan><tspan class="r" font-size="59.04" x="528.5" y="125.01" textLength="15.50" lengthAdjust="spacingAndGlyphs" stroke="#fff" stroke-width="0.45">/</tspan><tspan class="r" font-size="39.5" x="546.8" y="115.9" textLength="20.30" lengthAdjust="spacingAndGlyphs">λ</tspan><tspan class="i" font-size="28" x="569.14" y="121.9" stroke="#000" stroke-width="0.12">c</tspan></text>
<text><tspan class="i" font-size="43" x="22.24" y="234.6" textLength="26.26" lengthAdjust="spacingAndGlyphs" stroke="#fff" stroke-width="0.3">ϕ</tspan></text>
<rect x="13.5" y="252.2" width="43" height="1.7" fill="#000"/>
<text><tspan class="i" font-size="43" x="13.84" y="293.2" textLength="26.26" lengthAdjust="spacingAndGlyphs" stroke="#fff" stroke-width="0.3">ϕ</tspan><tspan class="r" font-size="30.5" x="38.74" y="300.6">0</tspan></text>
</svg>
</body>
</html>
